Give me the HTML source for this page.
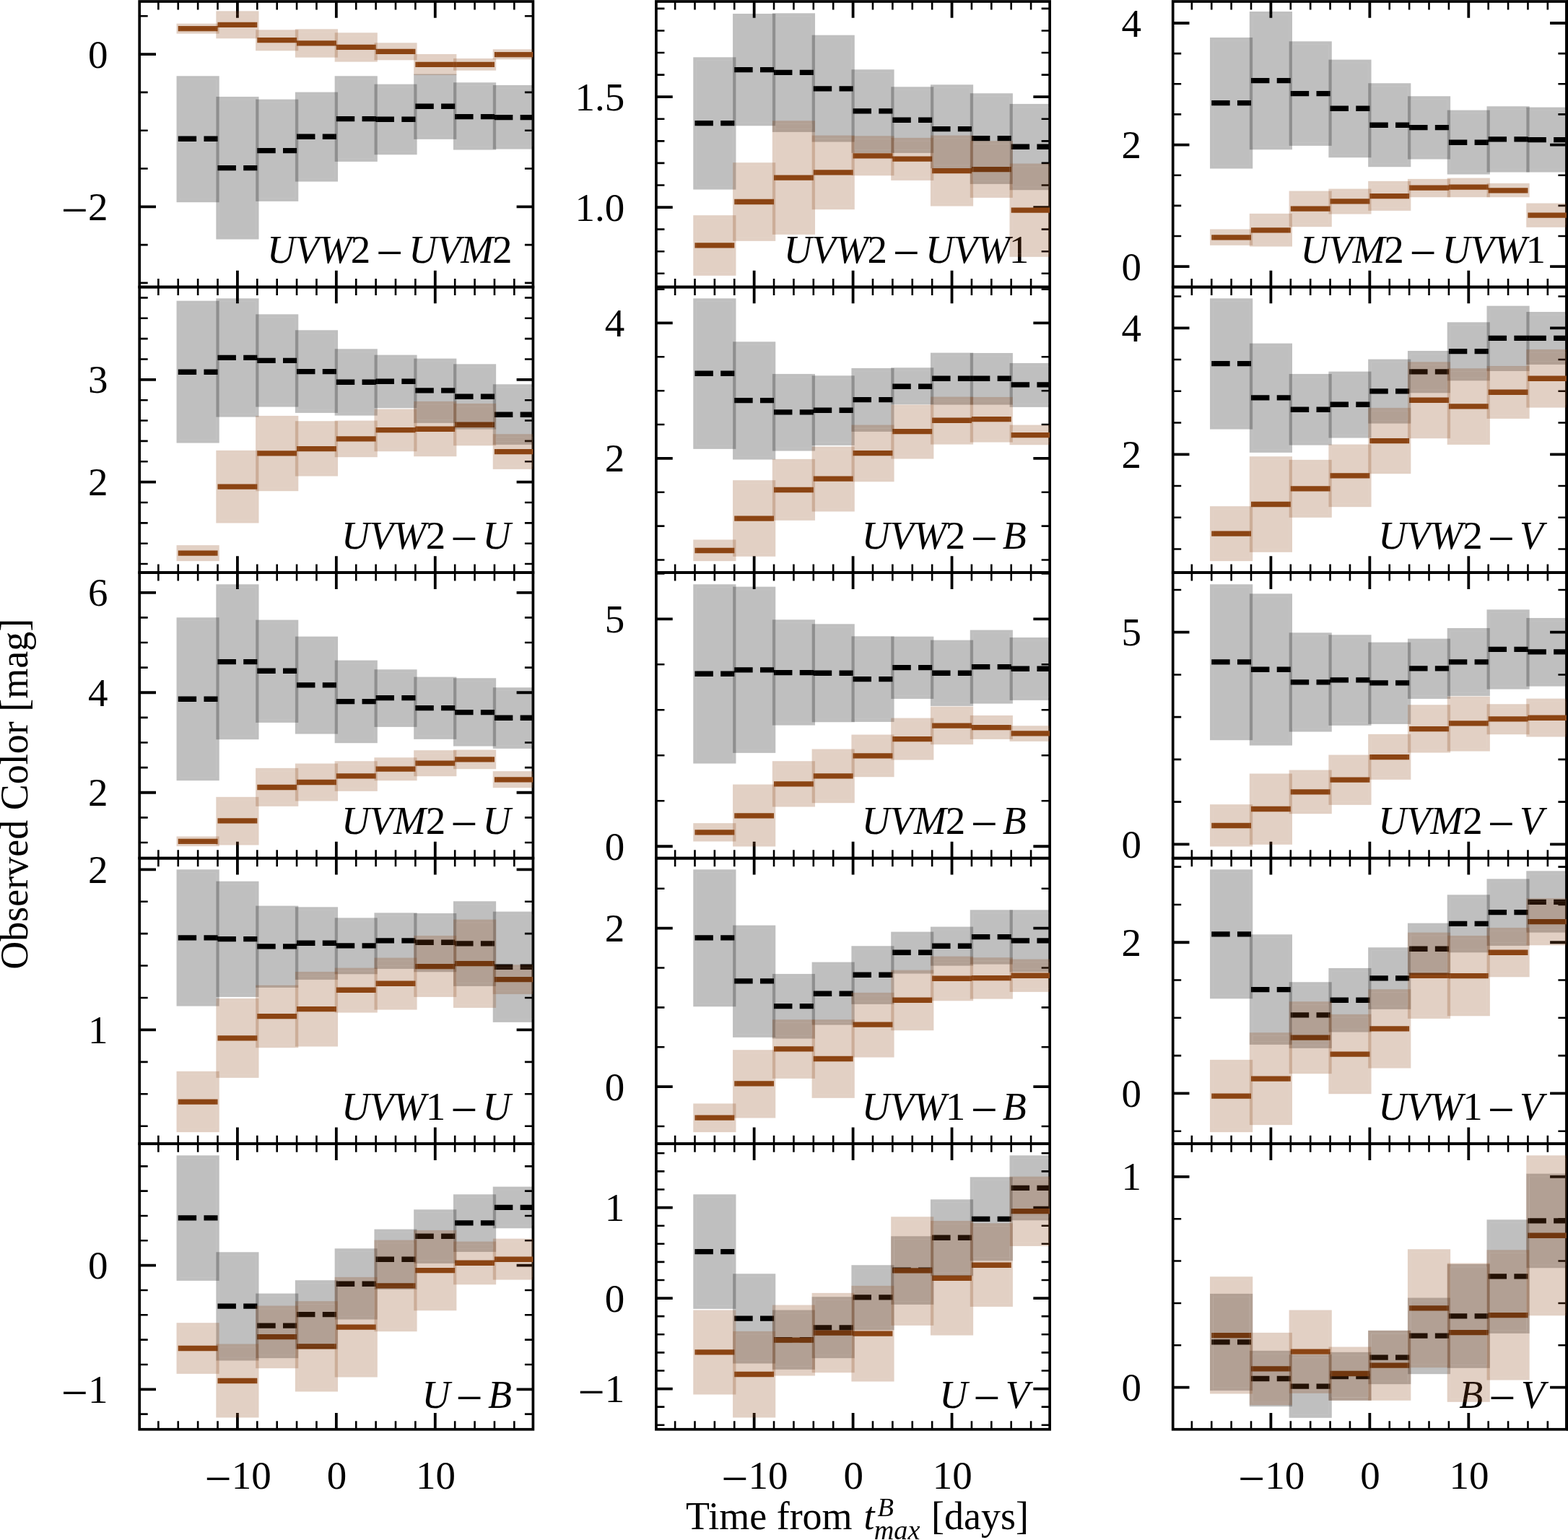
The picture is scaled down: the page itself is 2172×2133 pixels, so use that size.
<!DOCTYPE html>
<html lang="en"><head><meta charset="utf-8"><title>Observed Color vs Time from B maximum</title>
<style>html,body{margin:0;padding:0;background:#fff}body{width:2172px;height:2133px}svg{display:block}text{font-family:"Liberation Serif", serif;font-size:54px;fill:#000}.i{font-style:italic}.d{font-size:55px}.m{font-size:66px}</style>
</head><body>
<svg width="2172" height="2133" viewBox="0 0 2172 2133" role="img" aria-label="Observed color versus time from B-band maximum, 15 panels">
<rect x="0" y="0" width="2172" height="2133" fill="#fff"/>
<defs>
<clipPath id="c00"><rect x="193.2" y="2" width="545.2" height="395.55"/></clipPath>
<clipPath id="c01"><rect x="908.95" y="2" width="545.2" height="395.55"/></clipPath>
<clipPath id="c02"><rect x="1624.7" y="2" width="545.2" height="395.55"/></clipPath>
<clipPath id="c10"><rect x="193.2" y="397.55" width="545.2" height="395.55"/></clipPath>
<clipPath id="c11"><rect x="908.95" y="397.55" width="545.2" height="395.55"/></clipPath>
<clipPath id="c12"><rect x="1624.7" y="397.55" width="545.2" height="395.55"/></clipPath>
<clipPath id="c20"><rect x="193.2" y="793.1" width="545.2" height="395.55"/></clipPath>
<clipPath id="c21"><rect x="908.95" y="793.1" width="545.2" height="395.55"/></clipPath>
<clipPath id="c22"><rect x="1624.7" y="793.1" width="545.2" height="395.55"/></clipPath>
<clipPath id="c30"><rect x="193.2" y="1188.65" width="545.2" height="395.55"/></clipPath>
<clipPath id="c31"><rect x="908.95" y="1188.65" width="545.2" height="395.55"/></clipPath>
<clipPath id="c32"><rect x="1624.7" y="1188.65" width="545.2" height="395.55"/></clipPath>
<clipPath id="c40"><rect x="193.2" y="1584.2" width="545.2" height="395.55"/></clipPath>
<clipPath id="c41"><rect x="908.95" y="1584.2" width="545.2" height="395.55"/></clipPath>
<clipPath id="c42"><rect x="1624.7" y="1584.2" width="545.2" height="395.55"/></clipPath>
</defs>
<g id="panel-0-0">
<path d="M219.36 2v11.5 M219.36 397.55v-11.5 M246.75 2v11.5 M246.75 397.55v-11.5 M274.13 2v11.5 M274.13 397.55v-11.5 M301.52 2v11.5 M301.52 397.55v-11.5 M356.3 2v11.5 M356.3 397.55v-11.5 M383.69 2v11.5 M383.69 397.55v-11.5 M411.07 2v11.5 M411.07 397.55v-11.5 M438.46 2v11.5 M438.46 397.55v-11.5 M493.24 2v11.5 M493.24 397.55v-11.5 M520.63 2v11.5 M520.63 397.55v-11.5 M548.01 2v11.5 M548.01 397.55v-11.5 M575.4 2v11.5 M575.4 397.55v-11.5 M630.18 2v11.5 M630.18 397.55v-11.5 M657.57 2v11.5 M657.57 397.55v-11.5 M684.95 2v11.5 M684.95 397.55v-11.5 M712.34 2v11.5 M712.34 397.55v-11.5 M193.2 391.88h11.5 M738.4 391.88h-11.5 M193.2 339.08h11.5 M738.4 339.08h-11.5 M193.2 233.49h11.5 M738.4 233.49h-11.5 M193.2 180.69h11.5 M738.4 180.69h-11.5 M193.2 127.89h11.5 M738.4 127.89h-11.5 M193.2 22.3h11.5 M738.4 22.3h-11.5" stroke="#000" stroke-width="2.6" fill="none"/>
<path d="M328.91 2v22.8 M328.91 397.55v-22.8 M465.85 2v22.8 M465.85 397.55v-22.8 M602.79 2v22.8 M602.79 397.55v-22.8 M193.2 286.29h22.8 M738.4 286.29h-22.8 M193.2 75.09h22.8 M738.4 75.09h-22.8" stroke="#000" stroke-width="3.8" fill="none"/>
<rect x="193.2" y="2" width="545.2" height="395.55" fill="none" stroke="#000" stroke-width="3.7"/>
<text class="d" x="149.6" y="304.89" text-anchor="end"><tspan class="m" dy="8.1">−</tspan><tspan dy="-8.1">2</tspan></text>
<text class="d" x="149.6" y="93.69" text-anchor="end">0</text>
<g clip-path="url(#c00)">
<path d="M246.75 192.23H301.52 M301.52 232.55H356.3 M356.3 208.56H411.07 M411.07 189.24H465.85 M465.85 164.58H520.63 M520.63 165.25H575.4 M575.4 147.26H630.18 M630.18 161.58H684.95 M684.95 162.58H739.73" stroke="#000" stroke-width="7.3" stroke-dasharray="25.4 10.3" fill="none"/>
<path d="M246.75 39.65H301.52 M301.52 34.32H356.3 M356.3 55.64H411.07 M411.07 59.97H465.85 M465.85 65.3H520.63 M520.63 71.3H575.4 M575.4 89.29H630.18 M630.18 89.29H684.95 M684.95 75.63H739.73" stroke="#8b4513" stroke-width="7.3" fill="none"/>
</g>
<text y="364.25"><tspan class="i" x="370.1">UVW</tspan><tspan class="d" x="485.8">2</tspan><tspan class="m" x="520.91" dy="8.1">−</tspan><tspan class="i" x="566.3" dy="-8.1">UVM</tspan><tspan class="d" x="681.9">2</tspan></text>
<g clip-path="url(#c00)">
<rect x="244.55" y="105.28" width="59.18" height="174.91" fill="#000" fill-opacity="0.25"/>
<rect x="299.32" y="133.93" width="59.18" height="197.56" fill="#000" fill-opacity="0.25"/>
<rect x="354.1" y="137.6" width="59.18" height="141.26" fill="#000" fill-opacity="0.25"/>
<rect x="408.87" y="127.6" width="59.18" height="123.94" fill="#000" fill-opacity="0.25"/>
<rect x="463.65" y="105.28" width="59.18" height="118.61" fill="#000" fill-opacity="0.25"/>
<rect x="518.43" y="116.61" width="59.18" height="97.62" fill="#000" fill-opacity="0.25"/>
<rect x="573.2" y="102.61" width="59.18" height="90.29" fill="#000" fill-opacity="0.25"/>
<rect x="627.98" y="114.27" width="59.18" height="93.29" fill="#000" fill-opacity="0.25"/>
<rect x="682.75" y="117.94" width="59.18" height="88.62" fill="#000" fill-opacity="0.25"/>
<rect x="244.55" y="32.65" width="59.18" height="13.99" fill="#8b4513" fill-opacity="0.25"/>
<rect x="299.32" y="15.33" width="59.18" height="37.98" fill="#8b4513" fill-opacity="0.25"/>
<rect x="354.1" y="41.31" width="59.18" height="28.99" fill="#8b4513" fill-opacity="0.25"/>
<rect x="408.87" y="40.31" width="59.18" height="39.31" fill="#8b4513" fill-opacity="0.25"/>
<rect x="463.65" y="45.31" width="59.18" height="40.31" fill="#8b4513" fill-opacity="0.25"/>
<rect x="518.43" y="59.3" width="59.18" height="23.99" fill="#8b4513" fill-opacity="0.25"/>
<rect x="573.2" y="74.96" width="59.18" height="28.99" fill="#8b4513" fill-opacity="0.25"/>
<rect x="627.98" y="80.96" width="59.18" height="16.66" fill="#8b4513" fill-opacity="0.25"/>
<rect x="682.75" y="68.3" width="59.18" height="13.99" fill="#8b4513" fill-opacity="0.25"/>
<path d="M248.85 109.58h50.58v166.31h-50.58z M303.62 138.23h50.58v188.96h-50.58z M358.4 141.9h50.58v132.66h-50.58z M413.17 131.9h50.58v115.34h-50.58z M467.95 109.58h50.58v110.01h-50.58z M522.73 120.91h50.58v89.02h-50.58z M577.5 106.91h50.58v81.69h-50.58z M632.28 118.57h50.58v84.69h-50.58z M687.05 122.24h50.58v80.02h-50.58z M248.85 36.95h50.58v5.39h-50.58z M303.62 19.63h50.58v29.38h-50.58z M358.4 45.61h50.58v20.39h-50.58z M413.17 44.61h50.58v30.71h-50.58z M467.95 49.61h50.58v31.71h-50.58z M522.73 63.6h50.58v15.39h-50.58z M577.5 79.26h50.58v20.39h-50.58z M632.28 85.26h50.58v8.06h-50.58z M687.05 72.6h50.58v5.39h-50.58z" fill="none" stroke="#fff" stroke-opacity="0.07" stroke-width="1"/>
</g>
</g>
<g id="panel-0-1">
<path d="M935.11 2v11.5 M935.11 397.55v-11.5 M962.5 2v11.5 M962.5 397.55v-11.5 M989.88 2v11.5 M989.88 397.55v-11.5 M1017.27 2v11.5 M1017.27 397.55v-11.5 M1072.05 2v11.5 M1072.05 397.55v-11.5 M1099.44 2v11.5 M1099.44 397.55v-11.5 M1126.82 2v11.5 M1126.82 397.55v-11.5 M1154.21 2v11.5 M1154.21 397.55v-11.5 M1208.99 2v11.5 M1208.99 397.55v-11.5 M1236.38 2v11.5 M1236.38 397.55v-11.5 M1263.76 2v11.5 M1263.76 397.55v-11.5 M1291.15 2v11.5 M1291.15 397.55v-11.5 M1345.93 2v11.5 M1345.93 397.55v-11.5 M1373.32 2v11.5 M1373.32 397.55v-11.5 M1400.7 2v11.5 M1400.7 397.55v-11.5 M1428.09 2v11.5 M1428.09 397.55v-11.5 M908.95 378.76h11.5 M1454.15 378.76h-11.5 M908.95 348.19h11.5 M1454.15 348.19h-11.5 M908.95 317.62h11.5 M1454.15 317.62h-11.5 M908.95 256.48h11.5 M1454.15 256.48h-11.5 M908.95 225.91h11.5 M1454.15 225.91h-11.5 M908.95 195.34h11.5 M1454.15 195.34h-11.5 M908.95 164.77h11.5 M1454.15 164.77h-11.5 M908.95 103.63h11.5 M1454.15 103.63h-11.5 M908.95 73.06h11.5 M1454.15 73.06h-11.5 M908.95 42.48h11.5 M1454.15 42.48h-11.5 M908.95 11.91h11.5 M1454.15 11.91h-11.5" stroke="#000" stroke-width="2.6" fill="none"/>
<path d="M1044.66 2v22.8 M1044.66 397.55v-22.8 M1181.6 2v22.8 M1181.6 397.55v-22.8 M1318.54 2v22.8 M1318.54 397.55v-22.8 M908.95 287.05h22.8 M1454.15 287.05h-22.8 M908.95 134.2h22.8 M1454.15 134.2h-22.8" stroke="#000" stroke-width="3.8" fill="none"/>
<rect x="908.95" y="2" width="545.2" height="395.55" fill="none" stroke="#000" stroke-width="3.7"/>
<text class="d" x="865.35" y="305.65" text-anchor="end">1.0</text>
<text class="d" x="865.35" y="152.8" text-anchor="end">1.5</text>
<g clip-path="url(#c01)">
<path d="M962.5 170.58H1017.27 M1017.27 96.62H1072.05 M1072.05 100.28H1126.82 M1126.82 122.94H1181.6 M1181.6 153.92H1236.38 M1236.38 166.25H1291.15 M1291.15 178.57H1345.93 M1345.93 191.57H1400.7 M1400.7 203.23H1455.48" stroke="#000" stroke-width="7.3" stroke-dasharray="25.4 10.3" fill="none"/>
<path d="M962.5 339.82H1017.27 M1017.27 279.52H1072.05 M1072.05 246.21H1126.82 M1126.82 238.88H1181.6 M1181.6 215.89H1236.38 M1236.38 220.22H1291.15 M1291.15 236.54H1345.93 M1345.93 234.55H1400.7 M1400.7 291.18H1455.48" stroke="#8b4513" stroke-width="7.3" fill="none"/>
</g>
<text y="364.25"><tspan class="i" x="1085.85">UVW</tspan><tspan class="d" x="1201.55">2</tspan><tspan class="m" x="1236.66" dy="8.1">−</tspan><tspan class="i" x="1282.05" dy="-8.1">UVW</tspan><tspan class="d" x="1397.65">1</tspan></text>
<g clip-path="url(#c01)">
<rect x="960.3" y="79.29" width="59.18" height="183.24" fill="#000" fill-opacity="0.25"/>
<rect x="1015.07" y="18.99" width="59.18" height="155.25" fill="#000" fill-opacity="0.25"/>
<rect x="1069.85" y="18.32" width="59.18" height="164.58" fill="#000" fill-opacity="0.25"/>
<rect x="1124.62" y="48.64" width="59.18" height="147.92" fill="#000" fill-opacity="0.25"/>
<rect x="1179.4" y="96.28" width="59.18" height="115.61" fill="#000" fill-opacity="0.25"/>
<rect x="1234.18" y="120.27" width="59.18" height="91.62" fill="#000" fill-opacity="0.25"/>
<rect x="1288.95" y="117.27" width="59.18" height="115.94" fill="#000" fill-opacity="0.25"/>
<rect x="1343.73" y="129.27" width="59.18" height="125.6" fill="#000" fill-opacity="0.25"/>
<rect x="1398.5" y="143.93" width="59.18" height="119.27" fill="#000" fill-opacity="0.25"/>
<rect x="960.3" y="298.18" width="59.18" height="83.62" fill="#8b4513" fill-opacity="0.25"/>
<rect x="1015.07" y="225.22" width="59.18" height="108.61" fill="#8b4513" fill-opacity="0.25"/>
<rect x="1069.85" y="167.25" width="59.18" height="157.59" fill="#8b4513" fill-opacity="0.25"/>
<rect x="1124.62" y="187.57" width="59.18" height="102.61" fill="#8b4513" fill-opacity="0.25"/>
<rect x="1179.4" y="188.24" width="59.18" height="54.97" fill="#8b4513" fill-opacity="0.25"/>
<rect x="1234.18" y="190.9" width="59.18" height="58.97" fill="#8b4513" fill-opacity="0.25"/>
<rect x="1288.95" y="187.57" width="59.18" height="97.95" fill="#8b4513" fill-opacity="0.25"/>
<rect x="1343.73" y="195.23" width="59.18" height="78.63" fill="#8b4513" fill-opacity="0.25"/>
<rect x="1398.5" y="226.55" width="59.18" height="129.27" fill="#8b4513" fill-opacity="0.25"/>
<path d="M964.6 83.59h50.58v174.64h-50.58z M1019.37 23.29h50.58v146.65h-50.58z M1074.15 22.62h50.58v155.98h-50.58z M1128.92 52.94h50.58v139.32h-50.58z M1183.7 100.58h50.58v107.01h-50.58z M1238.48 124.57h50.58v83.02h-50.58z M1293.25 121.57h50.58v107.34h-50.58z M1348.03 133.57h50.58v117h-50.58z M1402.8 148.23h50.58v110.67h-50.58z M964.6 302.48h50.58v75.02h-50.58z M1019.37 229.52h50.58v100.01h-50.58z M1074.15 171.55h50.58v148.99h-50.58z M1128.92 191.87h50.58v94.01h-50.58z M1183.7 192.54h50.58v46.37h-50.58z M1238.48 195.2h50.58v50.37h-50.58z M1293.25 191.87h50.58v89.35h-50.58z M1348.03 199.53h50.58v70.03h-50.58z M1402.8 230.85h50.58v120.67h-50.58z" fill="none" stroke="#fff" stroke-opacity="0.07" stroke-width="1"/>
</g>
</g>
<g id="panel-0-2">
<path d="M1650.86 2v11.5 M1650.86 397.55v-11.5 M1678.25 2v11.5 M1678.25 397.55v-11.5 M1705.63 2v11.5 M1705.63 397.55v-11.5 M1733.02 2v11.5 M1733.02 397.55v-11.5 M1787.8 2v11.5 M1787.8 397.55v-11.5 M1815.19 2v11.5 M1815.19 397.55v-11.5 M1842.57 2v11.5 M1842.57 397.55v-11.5 M1869.96 2v11.5 M1869.96 397.55v-11.5 M1924.74 2v11.5 M1924.74 397.55v-11.5 M1952.13 2v11.5 M1952.13 397.55v-11.5 M1979.51 2v11.5 M1979.51 397.55v-11.5 M2006.9 2v11.5 M2006.9 397.55v-11.5 M2061.68 2v11.5 M2061.68 397.55v-11.5 M2089.07 2v11.5 M2089.07 397.55v-11.5 M2116.45 2v11.5 M2116.45 397.55v-11.5 M2143.84 2v11.5 M2143.84 397.55v-11.5 M1624.7 327h11.5 M2169.9 327h-11.5 M1624.7 284.85h11.5 M2169.9 284.85h-11.5 M1624.7 242.71h11.5 M2169.9 242.71h-11.5 M1624.7 158.42h11.5 M2169.9 158.42h-11.5 M1624.7 116.27h11.5 M2169.9 116.27h-11.5 M1624.7 74.13h11.5 M2169.9 74.13h-11.5" stroke="#000" stroke-width="2.6" fill="none"/>
<path d="M1760.41 2v22.8 M1760.41 397.55v-22.8 M1897.35 2v22.8 M1897.35 397.55v-22.8 M2034.29 2v22.8 M2034.29 397.55v-22.8 M1624.7 369.14h22.8 M2169.9 369.14h-22.8 M1624.7 200.56h22.8 M2169.9 200.56h-22.8 M1624.7 31.98h22.8 M2169.9 31.98h-22.8" stroke="#000" stroke-width="3.8" fill="none"/>
<rect x="1624.7" y="2" width="545.2" height="395.55" fill="none" stroke="#000" stroke-width="3.7"/>
<text class="d" x="1581.1" y="387.74" text-anchor="end">0</text>
<text class="d" x="1581.1" y="219.16" text-anchor="end">2</text>
<text class="d" x="1581.1" y="50.58" text-anchor="end">4</text>
<g clip-path="url(#c02)">
<path d="M1678.25 142.59H1733.02 M1733.02 111.61H1787.8 M1787.8 129.6H1842.57 M1842.57 150.26H1897.35 M1897.35 173.24H1952.13 M1952.13 176.58H2006.9 M2006.9 197.23H2061.68 M2061.68 192.9H2116.45 M2116.45 193.57H2171.23" stroke="#000" stroke-width="7.3" stroke-dasharray="25.4 10.3" fill="none"/>
<path d="M1678.25 328.83H1733.02 M1733.02 318.84H1787.8 M1787.8 289.18H1842.57 M1842.57 278.86H1897.35 M1897.35 271.53H1952.13 M1952.13 260.2H2006.9 M2006.9 259.2H2061.68 M2061.68 263.86H2116.45 M2116.45 298.18H2171.23" stroke="#8b4513" stroke-width="7.3" fill="none"/>
</g>
<text y="364.25"><tspan class="i" x="1801.6">UVM</tspan><tspan class="d" x="1917.3">2</tspan><tspan class="m" x="1952.41" dy="8.1">−</tspan><tspan class="i" x="1997.8" dy="-8.1">UVW</tspan><tspan class="d" x="2113.4">1</tspan></text>
<g clip-path="url(#c02)">
<rect x="1676.05" y="51.97" width="59.18" height="181.57" fill="#000" fill-opacity="0.25"/>
<rect x="1730.82" y="15.99" width="59.18" height="191.23" fill="#000" fill-opacity="0.25"/>
<rect x="1785.6" y="57.3" width="59.18" height="144.59" fill="#000" fill-opacity="0.25"/>
<rect x="1840.37" y="82.62" width="59.18" height="135.6" fill="#000" fill-opacity="0.25"/>
<rect x="1895.15" y="115.27" width="59.18" height="115.94" fill="#000" fill-opacity="0.25"/>
<rect x="1949.93" y="133.26" width="59.18" height="87.29" fill="#000" fill-opacity="0.25"/>
<rect x="2004.7" y="152.59" width="59.18" height="88.95" fill="#000" fill-opacity="0.25"/>
<rect x="2059.48" y="147.26" width="59.18" height="91.29" fill="#000" fill-opacity="0.25"/>
<rect x="2114.25" y="148.59" width="59.18" height="89.95" fill="#000" fill-opacity="0.25"/>
<rect x="1676.05" y="317.5" width="59.18" height="22.32" fill="#8b4513" fill-opacity="0.25"/>
<rect x="1730.82" y="295.85" width="59.18" height="45.64" fill="#8b4513" fill-opacity="0.25"/>
<rect x="1785.6" y="264.53" width="59.18" height="49.64" fill="#8b4513" fill-opacity="0.25"/>
<rect x="1840.37" y="261.53" width="59.18" height="34.98" fill="#8b4513" fill-opacity="0.25"/>
<rect x="1895.15" y="250.87" width="59.18" height="40.98" fill="#8b4513" fill-opacity="0.25"/>
<rect x="1949.93" y="247.87" width="59.18" height="25.32" fill="#8b4513" fill-opacity="0.25"/>
<rect x="2004.7" y="246.54" width="59.18" height="26.65" fill="#8b4513" fill-opacity="0.25"/>
<rect x="2059.48" y="253.87" width="59.18" height="19.32" fill="#8b4513" fill-opacity="0.25"/>
<rect x="2114.25" y="281.52" width="59.18" height="33.32" fill="#8b4513" fill-opacity="0.25"/>
<path d="M1680.35 56.27h50.58v172.97h-50.58z M1735.12 20.29h50.58v182.63h-50.58z M1789.9 61.6h50.58v135.99h-50.58z M1844.67 86.92h50.58v127h-50.58z M1899.45 119.57h50.58v107.34h-50.58z M1954.23 137.56h50.58v78.69h-50.58z M2009 156.89h50.58v80.35h-50.58z M2063.78 151.56h50.58v82.69h-50.58z M2118.55 152.89h50.58v81.35h-50.58z M1680.35 321.8h50.58v13.72h-50.58z M1735.12 300.15h50.58v37.04h-50.58z M1789.9 268.83h50.58v41.04h-50.58z M1844.67 265.83h50.58v26.38h-50.58z M1899.45 255.17h50.58v32.38h-50.58z M1954.23 252.17h50.58v16.72h-50.58z M2009 250.84h50.58v18.05h-50.58z M2063.78 258.17h50.58v10.72h-50.58z M2118.55 285.82h50.58v24.72h-50.58z" fill="none" stroke="#fff" stroke-opacity="0.07" stroke-width="1"/>
</g>
</g>
<g id="panel-1-0">
<path d="M219.36 397.55v11.5 M219.36 793.1v-11.5 M246.75 397.55v11.5 M246.75 793.1v-11.5 M274.13 397.55v11.5 M274.13 793.1v-11.5 M301.52 397.55v11.5 M301.52 793.1v-11.5 M356.3 397.55v11.5 M356.3 793.1v-11.5 M383.69 397.55v11.5 M383.69 793.1v-11.5 M411.07 397.55v11.5 M411.07 793.1v-11.5 M438.46 397.55v11.5 M438.46 793.1v-11.5 M493.24 397.55v11.5 M493.24 793.1v-11.5 M520.63 397.55v11.5 M520.63 793.1v-11.5 M548.01 397.55v11.5 M548.01 793.1v-11.5 M575.4 397.55v11.5 M575.4 793.1v-11.5 M630.18 397.55v11.5 M630.18 793.1v-11.5 M657.57 397.55v11.5 M657.57 793.1v-11.5 M684.95 397.55v11.5 M684.95 793.1v-11.5 M712.34 397.55v11.5 M712.34 793.1v-11.5 M193.2 781.06h11.5 M738.4 781.06h-11.5 M193.2 752.7h11.5 M738.4 752.7h-11.5 M193.2 724.34h11.5 M738.4 724.34h-11.5 M193.2 695.99h11.5 M738.4 695.99h-11.5 M193.2 639.27h11.5 M738.4 639.27h-11.5 M193.2 610.91h11.5 M738.4 610.91h-11.5 M193.2 582.55h11.5 M738.4 582.55h-11.5 M193.2 554.19h11.5 M738.4 554.19h-11.5 M193.2 497.47h11.5 M738.4 497.47h-11.5 M193.2 469.12h11.5 M738.4 469.12h-11.5 M193.2 440.76h11.5 M738.4 440.76h-11.5 M193.2 412.4h11.5 M738.4 412.4h-11.5" stroke="#000" stroke-width="2.6" fill="none"/>
<path d="M328.91 397.55v22.8 M328.91 793.1v-22.8 M465.85 397.55v22.8 M465.85 793.1v-22.8 M602.79 397.55v22.8 M602.79 793.1v-22.8 M193.2 667.63h22.8 M738.4 667.63h-22.8 M193.2 525.83h22.8 M738.4 525.83h-22.8" stroke="#000" stroke-width="3.8" fill="none"/>
<rect x="193.2" y="397.55" width="545.2" height="395.55" fill="none" stroke="#000" stroke-width="3.7"/>
<text class="d" x="149.6" y="686.23" text-anchor="end">2</text>
<text class="d" x="149.6" y="544.43" text-anchor="end">3</text>
<g clip-path="url(#c10)">
<path d="M246.75 515.27H301.52 M301.52 495.28H356.3 M356.3 499.28H411.07 M411.07 514.61H465.85 M465.85 529.26H520.63 M520.63 528.27H575.4 M575.4 540.93H630.18 M630.18 549.25H684.95 M684.95 574.24H739.73" stroke="#000" stroke-width="7.3" stroke-dasharray="25.4 10.3" fill="none"/>
<path d="M246.75 766.14H301.52 M301.52 674.19H356.3 M356.3 627.88H411.07 M411.07 621.55H465.85 M465.85 607.89H520.63 M520.63 595.56H575.4 M575.4 594.23H630.18 M630.18 588.23H684.95 M684.95 625.55H739.73" stroke="#8b4513" stroke-width="7.3" fill="none"/>
</g>
<text y="759.8"><tspan class="i" x="473">UVW</tspan><tspan class="d" x="589.65">2</tspan><tspan class="m" x="624.36" dy="8.1">−</tspan><tspan class="i" x="668.5" dy="-8.1">U</tspan></text>
<g clip-path="url(#c10)">
<rect x="244.55" y="416.66" width="59.18" height="196.9" fill="#000" fill-opacity="0.25"/>
<rect x="299.32" y="413.32" width="59.18" height="164.25" fill="#000" fill-opacity="0.25"/>
<rect x="354.1" y="435.31" width="59.18" height="128.27" fill="#000" fill-opacity="0.25"/>
<rect x="408.87" y="457.3" width="59.18" height="114.61" fill="#000" fill-opacity="0.25"/>
<rect x="463.65" y="483.29" width="59.18" height="92.29" fill="#000" fill-opacity="0.25"/>
<rect x="518.43" y="491.62" width="59.18" height="73.63" fill="#000" fill-opacity="0.25"/>
<rect x="573.2" y="496.61" width="59.18" height="89.29" fill="#000" fill-opacity="0.25"/>
<rect x="627.98" y="504.28" width="59.18" height="90.29" fill="#000" fill-opacity="0.25"/>
<rect x="682.75" y="532.26" width="59.18" height="83.62" fill="#000" fill-opacity="0.25"/>
<rect x="244.55" y="755.15" width="59.18" height="21.99" fill="#8b4513" fill-opacity="0.25"/>
<rect x="299.32" y="623.88" width="59.18" height="100.61" fill="#8b4513" fill-opacity="0.25"/>
<rect x="354.1" y="575.91" width="59.18" height="104.28" fill="#8b4513" fill-opacity="0.25"/>
<rect x="408.87" y="583.24" width="59.18" height="76.29" fill="#8b4513" fill-opacity="0.25"/>
<rect x="463.65" y="582.57" width="59.18" height="50.64" fill="#8b4513" fill-opacity="0.25"/>
<rect x="518.43" y="566.58" width="59.18" height="58.64" fill="#8b4513" fill-opacity="0.25"/>
<rect x="573.2" y="555.92" width="59.18" height="76.29" fill="#8b4513" fill-opacity="0.25"/>
<rect x="627.98" y="558.92" width="59.18" height="58.3" fill="#8b4513" fill-opacity="0.25"/>
<rect x="682.75" y="601.23" width="59.18" height="48.64" fill="#8b4513" fill-opacity="0.25"/>
<path d="M248.85 420.96h50.58v188.3h-50.58z M303.62 417.62h50.58v155.65h-50.58z M358.4 439.61h50.58v119.67h-50.58z M413.17 461.6h50.58v106.01h-50.58z M467.95 487.59h50.58v83.69h-50.58z M522.73 495.92h50.58v65.03h-50.58z M577.5 500.91h50.58v80.69h-50.58z M632.28 508.58h50.58v81.69h-50.58z M687.05 536.56h50.58v75.02h-50.58z M248.85 759.45h50.58v13.39h-50.58z M303.62 628.18h50.58v92.01h-50.58z M358.4 580.21h50.58v95.68h-50.58z M413.17 587.54h50.58v67.69h-50.58z M467.95 586.87h50.58v42.04h-50.58z M522.73 570.88h50.58v50.04h-50.58z M577.5 560.22h50.58v67.69h-50.58z M632.28 563.22h50.58v49.7h-50.58z M687.05 605.53h50.58v40.04h-50.58z" fill="none" stroke="#fff" stroke-opacity="0.07" stroke-width="1"/>
</g>
</g>
<g id="panel-1-1">
<path d="M935.11 397.55v11.5 M935.11 793.1v-11.5 M962.5 397.55v11.5 M962.5 793.1v-11.5 M989.88 397.55v11.5 M989.88 793.1v-11.5 M1017.27 397.55v11.5 M1017.27 793.1v-11.5 M1072.05 397.55v11.5 M1072.05 793.1v-11.5 M1099.44 397.55v11.5 M1099.44 793.1v-11.5 M1126.82 397.55v11.5 M1126.82 793.1v-11.5 M1154.21 397.55v11.5 M1154.21 793.1v-11.5 M1208.99 397.55v11.5 M1208.99 793.1v-11.5 M1236.38 397.55v11.5 M1236.38 793.1v-11.5 M1263.76 397.55v11.5 M1263.76 793.1v-11.5 M1291.15 397.55v11.5 M1291.15 793.1v-11.5 M1345.93 397.55v11.5 M1345.93 793.1v-11.5 M1373.32 397.55v11.5 M1373.32 793.1v-11.5 M1400.7 397.55v11.5 M1400.7 793.1v-11.5 M1428.09 397.55v11.5 M1428.09 793.1v-11.5 M908.95 775.43h11.5 M1454.15 775.43h-11.5 M908.95 728.58h11.5 M1454.15 728.58h-11.5 M908.95 681.73h11.5 M1454.15 681.73h-11.5 M908.95 588.03h11.5 M1454.15 588.03h-11.5 M908.95 541.18h11.5 M1454.15 541.18h-11.5 M908.95 494.32h11.5 M1454.15 494.32h-11.5 M908.95 400.62h11.5 M1454.15 400.62h-11.5" stroke="#000" stroke-width="2.6" fill="none"/>
<path d="M1044.66 397.55v22.8 M1044.66 793.1v-22.8 M1181.6 397.55v22.8 M1181.6 793.1v-22.8 M1318.54 397.55v22.8 M1318.54 793.1v-22.8 M908.95 634.88h22.8 M1454.15 634.88h-22.8 M908.95 447.47h22.8 M1454.15 447.47h-22.8" stroke="#000" stroke-width="3.8" fill="none"/>
<rect x="908.95" y="397.55" width="545.2" height="395.55" fill="none" stroke="#000" stroke-width="3.7"/>
<text class="d" x="865.35" y="653.48" text-anchor="end">2</text>
<text class="d" x="865.35" y="466.07" text-anchor="end">4</text>
<g clip-path="url(#c11)">
<path d="M962.5 517.27H1017.27 M1017.27 554.58H1072.05 M1072.05 570.91H1126.82 M1126.82 568.24H1181.6 M1181.6 553.59H1236.38 M1236.38 535.26H1291.15 M1291.15 524.27H1345.93 M1345.93 524.27H1400.7 M1400.7 532.93H1455.48" stroke="#000" stroke-width="7.3" stroke-dasharray="25.4 10.3" fill="none"/>
<path d="M962.5 762.48H1017.27 M1017.27 718.17H1072.05 M1072.05 678.52H1126.82 M1126.82 663.2H1181.6 M1181.6 627.55H1236.38 M1236.38 597.56H1291.15 M1291.15 582.24H1345.93 M1345.93 580.57H1400.7 M1400.7 602.56H1455.48" stroke="#8b4513" stroke-width="7.3" fill="none"/>
</g>
<text y="759.8"><tspan class="i" x="1193.85">UVW</tspan><tspan class="d" x="1309.75">2</tspan><tspan class="m" x="1344.66" dy="8.1">−</tspan><tspan class="i" x="1388.85" dy="-8.1">B</tspan></text>
<g clip-path="url(#c11)">
<rect x="960.3" y="413.32" width="59.18" height="208.56" fill="#000" fill-opacity="0.25"/>
<rect x="1015.07" y="473.29" width="59.18" height="163.25" fill="#000" fill-opacity="0.25"/>
<rect x="1069.85" y="517.94" width="59.18" height="106.61" fill="#000" fill-opacity="0.25"/>
<rect x="1124.62" y="520.27" width="59.18" height="96.62" fill="#000" fill-opacity="0.25"/>
<rect x="1179.4" y="509.94" width="59.18" height="87.95" fill="#000" fill-opacity="0.25"/>
<rect x="1234.18" y="509.27" width="59.18" height="50.97" fill="#000" fill-opacity="0.25"/>
<rect x="1288.95" y="488.62" width="59.18" height="71.96" fill="#000" fill-opacity="0.25"/>
<rect x="1343.73" y="488.95" width="59.18" height="71.63" fill="#000" fill-opacity="0.25"/>
<rect x="1398.5" y="502.94" width="59.18" height="60.97" fill="#000" fill-opacity="0.25"/>
<rect x="960.3" y="747.49" width="59.18" height="29.65" fill="#8b4513" fill-opacity="0.25"/>
<rect x="1015.07" y="665.19" width="59.18" height="105.61" fill="#8b4513" fill-opacity="0.25"/>
<rect x="1069.85" y="635.88" width="59.18" height="84.96" fill="#8b4513" fill-opacity="0.25"/>
<rect x="1124.62" y="618.55" width="59.18" height="89.95" fill="#8b4513" fill-opacity="0.25"/>
<rect x="1179.4" y="588.57" width="59.18" height="78.63" fill="#8b4513" fill-opacity="0.25"/>
<rect x="1234.18" y="560.58" width="59.18" height="74.96" fill="#8b4513" fill-opacity="0.25"/>
<rect x="1288.95" y="549.59" width="59.18" height="65.97" fill="#8b4513" fill-opacity="0.25"/>
<rect x="1343.73" y="549.92" width="59.18" height="62.63" fill="#8b4513" fill-opacity="0.25"/>
<rect x="1398.5" y="588.57" width="59.18" height="27.65" fill="#8b4513" fill-opacity="0.25"/>
<path d="M964.6 417.62h50.58v199.96h-50.58z M1019.37 477.59h50.58v154.65h-50.58z M1074.15 522.24h50.58v98.01h-50.58z M1128.92 524.57h50.58v88.02h-50.58z M1183.7 514.24h50.58v79.35h-50.58z M1238.48 513.57h50.58v42.37h-50.58z M1293.25 492.92h50.58v63.36h-50.58z M1348.03 493.25h50.58v63.03h-50.58z M1402.8 507.24h50.58v52.37h-50.58z M964.6 751.79h50.58v21.05h-50.58z M1019.37 669.49h50.58v97.01h-50.58z M1074.15 640.18h50.58v76.36h-50.58z M1128.92 622.85h50.58v81.35h-50.58z M1183.7 592.87h50.58v70.03h-50.58z M1238.48 564.88h50.58v66.36h-50.58z M1293.25 553.89h50.58v57.37h-50.58z M1348.03 554.22h50.58v54.03h-50.58z M1402.8 592.87h50.58v19.05h-50.58z" fill="none" stroke="#fff" stroke-opacity="0.07" stroke-width="1"/>
</g>
</g>
<g id="panel-1-2">
<path d="M1650.86 397.55v11.5 M1650.86 793.1v-11.5 M1678.25 397.55v11.5 M1678.25 793.1v-11.5 M1705.63 397.55v11.5 M1705.63 793.1v-11.5 M1733.02 397.55v11.5 M1733.02 793.1v-11.5 M1787.8 397.55v11.5 M1787.8 793.1v-11.5 M1815.19 397.55v11.5 M1815.19 793.1v-11.5 M1842.57 397.55v11.5 M1842.57 793.1v-11.5 M1869.96 397.55v11.5 M1869.96 793.1v-11.5 M1924.74 397.55v11.5 M1924.74 793.1v-11.5 M1952.13 397.55v11.5 M1952.13 793.1v-11.5 M1979.51 397.55v11.5 M1979.51 793.1v-11.5 M2006.9 397.55v11.5 M2006.9 793.1v-11.5 M2061.68 397.55v11.5 M2061.68 793.1v-11.5 M2089.07 397.55v11.5 M2089.07 793.1v-11.5 M2116.45 397.55v11.5 M2116.45 793.1v-11.5 M2143.84 397.55v11.5 M2143.84 793.1v-11.5 M1624.7 760.57h11.5 M2169.9 760.57h-11.5 M1624.7 716.82h11.5 M2169.9 716.82h-11.5 M1624.7 673.07h11.5 M2169.9 673.07h-11.5 M1624.7 585.56h11.5 M2169.9 585.56h-11.5 M1624.7 541.81h11.5 M2169.9 541.81h-11.5 M1624.7 498.06h11.5 M2169.9 498.06h-11.5 M1624.7 410.55h11.5 M2169.9 410.55h-11.5" stroke="#000" stroke-width="2.6" fill="none"/>
<path d="M1760.41 397.55v22.8 M1760.41 793.1v-22.8 M1897.35 397.55v22.8 M1897.35 793.1v-22.8 M2034.29 397.55v22.8 M2034.29 793.1v-22.8 M1624.7 629.31h22.8 M2169.9 629.31h-22.8 M1624.7 454.3h22.8 M2169.9 454.3h-22.8" stroke="#000" stroke-width="3.8" fill="none"/>
<rect x="1624.7" y="397.55" width="545.2" height="395.55" fill="none" stroke="#000" stroke-width="3.7"/>
<text class="d" x="1581.1" y="647.91" text-anchor="end">2</text>
<text class="d" x="1581.1" y="472.9" text-anchor="end">4</text>
<g clip-path="url(#c12)">
<path d="M1678.25 503.61H1733.02 M1733.02 550.92H1787.8 M1787.8 567.24H1842.57 M1842.57 560.25H1897.35 M1897.35 541.92H1952.13 M1952.13 514.94H2006.9 M2006.9 486.62H2061.68 M2061.68 468.3H2116.45 M2116.45 468.3H2171.23" stroke="#000" stroke-width="7.3" stroke-dasharray="25.4 10.3" fill="none"/>
<path d="M1678.25 739.16H1733.02 M1733.02 698.51H1787.8 M1787.8 676.86H1842.57 M1842.57 658.86H1897.35 M1897.35 610.56H1952.13 M1952.13 554.25H2006.9 M2006.9 562.91H2061.68 M2061.68 543.26H2116.45 M2116.45 524.27H2171.23" stroke="#8b4513" stroke-width="7.3" fill="none"/>
</g>
<text y="759.8"><tspan class="i" x="1909.2">UVW</tspan><tspan class="d" x="2026.2">2</tspan><tspan class="m" x="2060.71" dy="8.1">−</tspan><tspan class="i" x="2105.1" dy="-8.1">V</tspan></text>
<g clip-path="url(#c12)">
<rect x="1676.05" y="413.32" width="59.18" height="181.24" fill="#000" fill-opacity="0.25"/>
<rect x="1730.82" y="475.63" width="59.18" height="151.26" fill="#000" fill-opacity="0.25"/>
<rect x="1785.6" y="517.94" width="59.18" height="98.62" fill="#000" fill-opacity="0.25"/>
<rect x="1840.37" y="514.61" width="59.18" height="91.95" fill="#000" fill-opacity="0.25"/>
<rect x="1895.15" y="497.61" width="59.18" height="88.95" fill="#000" fill-opacity="0.25"/>
<rect x="1949.93" y="485.95" width="59.18" height="58.3" fill="#000" fill-opacity="0.25"/>
<rect x="2004.7" y="446.31" width="59.18" height="80.96" fill="#000" fill-opacity="0.25"/>
<rect x="2059.48" y="423.65" width="59.18" height="90.29" fill="#000" fill-opacity="0.25"/>
<rect x="2114.25" y="431.98" width="59.18" height="72.96" fill="#000" fill-opacity="0.25"/>
<rect x="1676.05" y="701.18" width="59.18" height="75.96" fill="#8b4513" fill-opacity="0.25"/>
<rect x="1730.82" y="632.21" width="59.18" height="132.6" fill="#8b4513" fill-opacity="0.25"/>
<rect x="1785.6" y="636.88" width="59.18" height="79.96" fill="#8b4513" fill-opacity="0.25"/>
<rect x="1840.37" y="615.55" width="59.18" height="86.62" fill="#8b4513" fill-opacity="0.25"/>
<rect x="1895.15" y="564.91" width="59.18" height="91.29" fill="#8b4513" fill-opacity="0.25"/>
<rect x="1949.93" y="501.28" width="59.18" height="105.95" fill="#8b4513" fill-opacity="0.25"/>
<rect x="2004.7" y="510.27" width="59.18" height="105.61" fill="#8b4513" fill-opacity="0.25"/>
<rect x="2059.48" y="506.94" width="59.18" height="72.96" fill="#8b4513" fill-opacity="0.25"/>
<rect x="2114.25" y="483.95" width="59.18" height="80.63" fill="#8b4513" fill-opacity="0.25"/>
<path d="M1680.35 417.62h50.58v172.64h-50.58z M1735.12 479.93h50.58v142.66h-50.58z M1789.9 522.24h50.58v90.02h-50.58z M1844.67 518.91h50.58v83.35h-50.58z M1899.45 501.91h50.58v80.35h-50.58z M1954.23 490.25h50.58v49.7h-50.58z M2009 450.61h50.58v72.36h-50.58z M2063.78 427.95h50.58v81.69h-50.58z M2118.55 436.28h50.58v64.36h-50.58z M1680.35 705.48h50.58v67.36h-50.58z M1735.12 636.51h50.58v124h-50.58z M1789.9 641.18h50.58v71.36h-50.58z M1844.67 619.85h50.58v78.02h-50.58z M1899.45 569.21h50.58v82.69h-50.58z M1954.23 505.58h50.58v97.35h-50.58z M2009 514.57h50.58v97.01h-50.58z M2063.78 511.24h50.58v64.36h-50.58z M2118.55 488.25h50.58v72.03h-50.58z" fill="none" stroke="#fff" stroke-opacity="0.07" stroke-width="1"/>
</g>
</g>
<g id="panel-2-0">
<path d="M219.36 793.1v11.5 M219.36 1188.65v-11.5 M246.75 793.1v11.5 M246.75 1188.65v-11.5 M274.13 793.1v11.5 M274.13 1188.65v-11.5 M301.52 793.1v11.5 M301.52 1188.65v-11.5 M356.3 793.1v11.5 M356.3 1188.65v-11.5 M383.69 793.1v11.5 M383.69 1188.65v-11.5 M411.07 793.1v11.5 M411.07 1188.65v-11.5 M438.46 793.1v11.5 M438.46 1188.65v-11.5 M493.24 793.1v11.5 M493.24 1188.65v-11.5 M520.63 793.1v11.5 M520.63 1188.65v-11.5 M548.01 793.1v11.5 M548.01 1188.65v-11.5 M575.4 793.1v11.5 M575.4 1188.65v-11.5 M630.18 793.1v11.5 M630.18 1188.65v-11.5 M657.57 793.1v11.5 M657.57 1188.65v-11.5 M684.95 793.1v11.5 M684.95 1188.65v-11.5 M712.34 793.1v11.5 M712.34 1188.65v-11.5 M193.2 1166.98h11.5 M738.4 1166.98h-11.5 M193.2 1132.36h11.5 M738.4 1132.36h-11.5 M193.2 1063.12h11.5 M738.4 1063.12h-11.5 M193.2 1028.5h11.5 M738.4 1028.5h-11.5 M193.2 993.88h11.5 M738.4 993.88h-11.5 M193.2 924.64h11.5 M738.4 924.64h-11.5 M193.2 890.02h11.5 M738.4 890.02h-11.5 M193.2 855.4h11.5 M738.4 855.4h-11.5" stroke="#000" stroke-width="2.6" fill="none"/>
<path d="M328.91 793.1v22.8 M328.91 1188.65v-22.8 M465.85 793.1v22.8 M465.85 1188.65v-22.8 M602.79 793.1v22.8 M602.79 1188.65v-22.8 M193.2 1097.74h22.8 M738.4 1097.74h-22.8 M193.2 959.26h22.8 M738.4 959.26h-22.8 M193.2 820.79h22.8 M738.4 820.79h-22.8" stroke="#000" stroke-width="3.8" fill="none"/>
<rect x="193.2" y="793.1" width="545.2" height="395.55" fill="none" stroke="#000" stroke-width="3.7"/>
<text class="d" x="149.6" y="1116.34" text-anchor="end">2</text>
<text class="d" x="149.6" y="977.86" text-anchor="end">4</text>
<text class="d" x="149.6" y="839.39" text-anchor="end">6</text>
<g clip-path="url(#c20)">
<path d="M246.75 968.24H301.52 M301.52 916.6H356.3 M356.3 929.26H411.07 M411.07 948.92H465.85 M465.85 971.57H520.63 M520.63 966.58H575.4 M575.4 980.57H630.18 M630.18 986.57H684.95 M684.95 994.23H739.73" stroke="#000" stroke-width="7.3" stroke-dasharray="25.4 10.3" fill="none"/>
<path d="M246.75 1165.47H301.52 M301.52 1136.82H356.3 M356.3 1090.51H411.07 M411.07 1083.52H465.85 M465.85 1074.85H520.63 M520.63 1065.19H575.4 M575.4 1057.2H630.18 M630.18 1051.87H684.95 M684.95 1079.85H739.73" stroke="#8b4513" stroke-width="7.3" fill="none"/>
</g>
<text y="1155.35"><tspan class="i" x="473">UVM</tspan><tspan class="d" x="589.65">2</tspan><tspan class="m" x="624.36" dy="8.1">−</tspan><tspan class="i" x="668.5" dy="-8.1">U</tspan></text>
<g clip-path="url(#c20)">
<rect x="244.55" y="855.3" width="59.18" height="225.88" fill="#000" fill-opacity="0.25"/>
<rect x="299.32" y="809.32" width="59.18" height="214.89" fill="#000" fill-opacity="0.25"/>
<rect x="354.1" y="858.63" width="59.18" height="142.26" fill="#000" fill-opacity="0.25"/>
<rect x="408.87" y="881.62" width="59.18" height="134.93" fill="#000" fill-opacity="0.25"/>
<rect x="463.65" y="914.6" width="59.18" height="114.61" fill="#000" fill-opacity="0.25"/>
<rect x="518.43" y="927.26" width="59.18" height="79.63" fill="#000" fill-opacity="0.25"/>
<rect x="573.2" y="937.59" width="59.18" height="86.29" fill="#000" fill-opacity="0.25"/>
<rect x="627.98" y="939.26" width="59.18" height="94.28" fill="#000" fill-opacity="0.25"/>
<rect x="682.75" y="952.25" width="59.18" height="84.62" fill="#000" fill-opacity="0.25"/>
<rect x="244.55" y="1158.48" width="59.18" height="13.66" fill="#8b4513" fill-opacity="0.25"/>
<rect x="299.32" y="1103.84" width="59.18" height="66.63" fill="#8b4513" fill-opacity="0.25"/>
<rect x="354.1" y="1063.86" width="59.18" height="52.97" fill="#8b4513" fill-opacity="0.25"/>
<rect x="408.87" y="1057.53" width="59.18" height="51.97" fill="#8b4513" fill-opacity="0.25"/>
<rect x="463.65" y="1054.2" width="59.18" height="41.65" fill="#8b4513" fill-opacity="0.25"/>
<rect x="518.43" y="1049.2" width="59.18" height="31.98" fill="#8b4513" fill-opacity="0.25"/>
<rect x="573.2" y="1039.21" width="59.18" height="35.98" fill="#8b4513" fill-opacity="0.25"/>
<rect x="627.98" y="1038.54" width="59.18" height="26.65" fill="#8b4513" fill-opacity="0.25"/>
<rect x="682.75" y="1068.19" width="59.18" height="22.99" fill="#8b4513" fill-opacity="0.25"/>
<path d="M248.85 859.6h50.58v217.28h-50.58z M303.62 813.62h50.58v206.29h-50.58z M358.4 862.93h50.58v133.66h-50.58z M413.17 885.92h50.58v126.33h-50.58z M467.95 918.9h50.58v106.01h-50.58z M522.73 931.56h50.58v71.03h-50.58z M577.5 941.89h50.58v77.69h-50.58z M632.28 943.56h50.58v85.68h-50.58z M687.05 956.55h50.58v76.02h-50.58z M248.85 1162.78h50.58v5.06h-50.58z M303.62 1108.14h50.58v58.03h-50.58z M358.4 1068.16h50.58v44.37h-50.58z M413.17 1061.83h50.58v43.37h-50.58z M467.95 1058.5h50.58v33.05h-50.58z M522.73 1053.5h50.58v23.38h-50.58z M577.5 1043.51h50.58v27.38h-50.58z M632.28 1042.84h50.58v18.05h-50.58z M687.05 1072.49h50.58v14.39h-50.58z" fill="none" stroke="#fff" stroke-opacity="0.07" stroke-width="1"/>
</g>
</g>
<g id="panel-2-1">
<path d="M935.11 793.1v11.5 M935.11 1188.65v-11.5 M962.5 793.1v11.5 M962.5 1188.65v-11.5 M989.88 793.1v11.5 M989.88 1188.65v-11.5 M1017.27 793.1v11.5 M1017.27 1188.65v-11.5 M1072.05 793.1v11.5 M1072.05 1188.65v-11.5 M1099.44 793.1v11.5 M1099.44 1188.65v-11.5 M1126.82 793.1v11.5 M1126.82 1188.65v-11.5 M1154.21 793.1v11.5 M1154.21 1188.65v-11.5 M1208.99 793.1v11.5 M1208.99 1188.65v-11.5 M1236.38 793.1v11.5 M1236.38 1188.65v-11.5 M1263.76 793.1v11.5 M1263.76 1188.65v-11.5 M1291.15 793.1v11.5 M1291.15 1188.65v-11.5 M1345.93 793.1v11.5 M1345.93 1188.65v-11.5 M1373.32 793.1v11.5 M1373.32 1188.65v-11.5 M1400.7 793.1v11.5 M1400.7 1188.65v-11.5 M1428.09 793.1v11.5 M1428.09 1188.65v-11.5 M908.95 1109.28h11.5 M1454.15 1109.28h-11.5 M908.95 1046.3h11.5 M1454.15 1046.3h-11.5 M908.95 983.31h11.5 M1454.15 983.31h-11.5 M908.95 920.32h11.5 M1454.15 920.32h-11.5 M908.95 794.35h11.5 M1454.15 794.35h-11.5" stroke="#000" stroke-width="2.6" fill="none"/>
<path d="M1044.66 793.1v22.8 M1044.66 1188.65v-22.8 M1181.6 793.1v22.8 M1181.6 1188.65v-22.8 M1318.54 793.1v22.8 M1318.54 1188.65v-22.8 M908.95 1172.27h22.8 M1454.15 1172.27h-22.8 M908.95 857.33h22.8 M1454.15 857.33h-22.8" stroke="#000" stroke-width="3.8" fill="none"/>
<rect x="908.95" y="793.1" width="545.2" height="395.55" fill="none" stroke="#000" stroke-width="3.7"/>
<text class="d" x="865.35" y="1190.87" text-anchor="end">0</text>
<text class="d" x="865.35" y="875.93" text-anchor="end">5</text>
<g clip-path="url(#c21)">
<path d="M962.5 933.26H1017.27 M1017.27 927.93H1072.05 M1072.05 931.59H1126.82 M1126.82 932.26H1181.6 M1181.6 940.59H1236.38 M1236.38 924.6H1291.15 M1291.15 932.26H1345.93 M1345.93 923.6H1400.7 M1400.7 926.26H1455.48" stroke="#000" stroke-width="7.3" stroke-dasharray="25.4 10.3" fill="none"/>
<path d="M962.5 1152.81H1017.27 M1017.27 1129.83H1072.05 M1072.05 1085.85H1126.82 M1126.82 1074.85H1181.6 M1181.6 1046.87H1236.38 M1236.38 1023.55H1291.15 M1291.15 1005.22H1345.93 M1345.93 1007.56H1400.7 M1400.7 1015.88H1455.48" stroke="#8b4513" stroke-width="7.3" fill="none"/>
</g>
<text y="1155.35"><tspan class="i" x="1193.85">UVM</tspan><tspan class="d" x="1309.75">2</tspan><tspan class="m" x="1344.66" dy="8.1">−</tspan><tspan class="i" x="1388.85" dy="-8.1">B</tspan></text>
<g clip-path="url(#c21)">
<rect x="960.3" y="809.32" width="59.18" height="248.21" fill="#000" fill-opacity="0.25"/>
<rect x="1015.07" y="812.66" width="59.18" height="230.21" fill="#000" fill-opacity="0.25"/>
<rect x="1069.85" y="858.3" width="59.18" height="146.26" fill="#000" fill-opacity="0.25"/>
<rect x="1124.62" y="864.3" width="59.18" height="135.93" fill="#000" fill-opacity="0.25"/>
<rect x="1179.4" y="881.29" width="59.18" height="118.61" fill="#000" fill-opacity="0.25"/>
<rect x="1234.18" y="881.62" width="59.18" height="86.29" fill="#000" fill-opacity="0.25"/>
<rect x="1288.95" y="886.62" width="59.18" height="91.29" fill="#000" fill-opacity="0.25"/>
<rect x="1343.73" y="872.63" width="59.18" height="101.95" fill="#000" fill-opacity="0.25"/>
<rect x="1398.5" y="882.95" width="59.18" height="86.96" fill="#000" fill-opacity="0.25"/>
<rect x="960.3" y="1140.15" width="59.18" height="25.32" fill="#8b4513" fill-opacity="0.25"/>
<rect x="1015.07" y="1086.51" width="59.18" height="85.96" fill="#8b4513" fill-opacity="0.25"/>
<rect x="1069.85" y="1054.2" width="59.18" height="63.3" fill="#8b4513" fill-opacity="0.25"/>
<rect x="1124.62" y="1037.54" width="59.18" height="74.63" fill="#8b4513" fill-opacity="0.25"/>
<rect x="1179.4" y="1017.55" width="59.18" height="58.64" fill="#8b4513" fill-opacity="0.25"/>
<rect x="1234.18" y="994.56" width="59.18" height="57.97" fill="#8b4513" fill-opacity="0.25"/>
<rect x="1288.95" y="978.57" width="59.18" height="52.64" fill="#8b4513" fill-opacity="0.25"/>
<rect x="1343.73" y="990.9" width="59.18" height="32.98" fill="#8b4513" fill-opacity="0.25"/>
<rect x="1398.5" y="1005.22" width="59.18" height="21.66" fill="#8b4513" fill-opacity="0.25"/>
<path d="M964.6 813.62h50.58v239.61h-50.58z M1019.37 816.96h50.58v221.61h-50.58z M1074.15 862.6h50.58v137.66h-50.58z M1128.92 868.6h50.58v127.33h-50.58z M1183.7 885.59h50.58v110.01h-50.58z M1238.48 885.92h50.58v77.69h-50.58z M1293.25 890.92h50.58v82.69h-50.58z M1348.03 876.93h50.58v93.35h-50.58z M1402.8 887.25h50.58v78.36h-50.58z M964.6 1144.45h50.58v16.72h-50.58z M1019.37 1090.81h50.58v77.36h-50.58z M1074.15 1058.5h50.58v54.7h-50.58z M1128.92 1041.84h50.58v66.03h-50.58z M1183.7 1021.85h50.58v50.04h-50.58z M1238.48 998.86h50.58v49.37h-50.58z M1293.25 982.87h50.58v44.04h-50.58z M1348.03 995.2h50.58v24.38h-50.58z M1402.8 1009.52h50.58v13.06h-50.58z" fill="none" stroke="#fff" stroke-opacity="0.07" stroke-width="1"/>
</g>
</g>
<g id="panel-2-2">
<path d="M1650.86 793.1v11.5 M1650.86 1188.65v-11.5 M1678.25 793.1v11.5 M1678.25 1188.65v-11.5 M1705.63 793.1v11.5 M1705.63 1188.65v-11.5 M1733.02 793.1v11.5 M1733.02 1188.65v-11.5 M1787.8 793.1v11.5 M1787.8 1188.65v-11.5 M1815.19 793.1v11.5 M1815.19 1188.65v-11.5 M1842.57 793.1v11.5 M1842.57 1188.65v-11.5 M1869.96 793.1v11.5 M1869.96 1188.65v-11.5 M1924.74 793.1v11.5 M1924.74 1188.65v-11.5 M1952.13 793.1v11.5 M1952.13 1188.65v-11.5 M1979.51 793.1v11.5 M1979.51 1188.65v-11.5 M2006.9 793.1v11.5 M2006.9 1188.65v-11.5 M2061.68 793.1v11.5 M2061.68 1188.65v-11.5 M2089.07 793.1v11.5 M2089.07 1188.65v-11.5 M2116.45 793.1v11.5 M2116.45 1188.65v-11.5 M2143.84 793.1v11.5 M2143.84 1188.65v-11.5 M1624.7 1110.59h11.5 M2169.9 1110.59h-11.5 M1624.7 1051.87h11.5 M2169.9 1051.87h-11.5 M1624.7 993.16h11.5 M2169.9 993.16h-11.5 M1624.7 934.44h11.5 M2169.9 934.44h-11.5 M1624.7 817.01h11.5 M2169.9 817.01h-11.5" stroke="#000" stroke-width="2.6" fill="none"/>
<path d="M1760.41 793.1v22.8 M1760.41 1188.65v-22.8 M1897.35 793.1v22.8 M1897.35 1188.65v-22.8 M2034.29 793.1v22.8 M2034.29 1188.65v-22.8 M1624.7 1169.31h22.8 M2169.9 1169.31h-22.8 M1624.7 875.72h22.8 M2169.9 875.72h-22.8" stroke="#000" stroke-width="3.8" fill="none"/>
<rect x="1624.7" y="793.1" width="545.2" height="395.55" fill="none" stroke="#000" stroke-width="3.7"/>
<text class="d" x="1581.1" y="1187.91" text-anchor="end">0</text>
<text class="d" x="1581.1" y="894.32" text-anchor="end">5</text>
<g clip-path="url(#c22)">
<path d="M1678.25 916.94H1733.02 M1733.02 927.26H1787.8 M1787.8 944.92H1842.57 M1842.57 941.92H1897.35 M1897.35 945.92H1952.13 M1952.13 925.93H2006.9 M2006.9 916.94H2061.68 M2061.68 899.28H2116.45 M2116.45 902.94H2171.23" stroke="#000" stroke-width="7.3" stroke-dasharray="25.4 10.3" fill="none"/>
<path d="M1678.25 1143.49H1733.02 M1733.02 1120.5H1787.8 M1787.8 1096.84H1842.57 M1842.57 1080.18H1897.35 M1897.35 1048.53H1952.13 M1952.13 1009.55H2006.9 M2006.9 1001.89H2061.68 M2061.68 995.89H2116.45 M2116.45 994.23H2171.23" stroke="#8b4513" stroke-width="7.3" fill="none"/>
</g>
<text y="1155.35"><tspan class="i" x="1909.2">UVM</tspan><tspan class="d" x="2026.2">2</tspan><tspan class="m" x="2060.71" dy="8.1">−</tspan><tspan class="i" x="2105.1" dy="-8.1">V</tspan></text>
<g clip-path="url(#c22)">
<rect x="1676.05" y="809.32" width="59.18" height="215.89" fill="#000" fill-opacity="0.25"/>
<rect x="1730.82" y="822.32" width="59.18" height="210.22" fill="#000" fill-opacity="0.25"/>
<rect x="1785.6" y="876.29" width="59.18" height="137.26" fill="#000" fill-opacity="0.25"/>
<rect x="1840.37" y="879.29" width="59.18" height="125.6" fill="#000" fill-opacity="0.25"/>
<rect x="1895.15" y="889.62" width="59.18" height="113.27" fill="#000" fill-opacity="0.25"/>
<rect x="1949.93" y="884.62" width="59.18" height="83.29" fill="#000" fill-opacity="0.25"/>
<rect x="2004.7" y="869.96" width="59.18" height="93.95" fill="#000" fill-opacity="0.25"/>
<rect x="2059.48" y="844.31" width="59.18" height="110.28" fill="#000" fill-opacity="0.25"/>
<rect x="2114.25" y="855.97" width="59.18" height="94.62" fill="#000" fill-opacity="0.25"/>
<rect x="1676.05" y="1114.17" width="59.18" height="58.3" fill="#8b4513" fill-opacity="0.25"/>
<rect x="1730.82" y="1071.52" width="59.18" height="98.28" fill="#8b4513" fill-opacity="0.25"/>
<rect x="1785.6" y="1066.53" width="59.18" height="60.64" fill="#8b4513" fill-opacity="0.25"/>
<rect x="1840.37" y="1045.54" width="59.18" height="69.3" fill="#8b4513" fill-opacity="0.25"/>
<rect x="1895.15" y="1016.88" width="59.18" height="62.97" fill="#8b4513" fill-opacity="0.25"/>
<rect x="1949.93" y="976.24" width="59.18" height="66.3" fill="#8b4513" fill-opacity="0.25"/>
<rect x="2004.7" y="964.58" width="59.18" height="75.96" fill="#8b4513" fill-opacity="0.25"/>
<rect x="2059.48" y="975.24" width="59.18" height="41.98" fill="#8b4513" fill-opacity="0.25"/>
<rect x="2114.25" y="967.58" width="59.18" height="52.97" fill="#8b4513" fill-opacity="0.25"/>
<path d="M1680.35 813.62h50.58v207.29h-50.58z M1735.12 826.62h50.58v201.62h-50.58z M1789.9 880.59h50.58v128.66h-50.58z M1844.67 883.59h50.58v117h-50.58z M1899.45 893.92h50.58v104.67h-50.58z M1954.23 888.92h50.58v74.69h-50.58z M2009 874.26h50.58v85.35h-50.58z M2063.78 848.61h50.58v101.68h-50.58z M2118.55 860.27h50.58v86.02h-50.58z M1680.35 1118.47h50.58v49.7h-50.58z M1735.12 1075.82h50.58v89.68h-50.58z M1789.9 1070.83h50.58v52.04h-50.58z M1844.67 1049.84h50.58v60.7h-50.58z M1899.45 1021.18h50.58v54.37h-50.58z M1954.23 980.54h50.58v57.7h-50.58z M2009 968.88h50.58v67.36h-50.58z M2063.78 979.54h50.58v33.38h-50.58z M2118.55 971.88h50.58v44.37h-50.58z" fill="none" stroke="#fff" stroke-opacity="0.07" stroke-width="1"/>
</g>
</g>
<g id="panel-3-0">
<path d="M219.36 1188.65v11.5 M219.36 1584.2v-11.5 M246.75 1188.65v11.5 M246.75 1584.2v-11.5 M274.13 1188.65v11.5 M274.13 1584.2v-11.5 M301.52 1188.65v11.5 M301.52 1584.2v-11.5 M356.3 1188.65v11.5 M356.3 1584.2v-11.5 M383.69 1188.65v11.5 M383.69 1584.2v-11.5 M411.07 1188.65v11.5 M411.07 1584.2v-11.5 M438.46 1188.65v11.5 M438.46 1584.2v-11.5 M493.24 1188.65v11.5 M493.24 1584.2v-11.5 M520.63 1188.65v11.5 M520.63 1584.2v-11.5 M548.01 1188.65v11.5 M548.01 1584.2v-11.5 M575.4 1188.65v11.5 M575.4 1584.2v-11.5 M630.18 1188.65v11.5 M630.18 1584.2v-11.5 M657.57 1188.65v11.5 M657.57 1584.2v-11.5 M684.95 1188.65v11.5 M684.95 1584.2v-11.5 M712.34 1188.65v11.5 M712.34 1584.2v-11.5 M193.2 1559.68h11.5 M738.4 1559.68h-11.5 M193.2 1515.26h11.5 M738.4 1515.26h-11.5 M193.2 1470.83h11.5 M738.4 1470.83h-11.5 M193.2 1381.99h11.5 M738.4 1381.99h-11.5 M193.2 1337.56h11.5 M738.4 1337.56h-11.5 M193.2 1293.14h11.5 M738.4 1293.14h-11.5 M193.2 1248.71h11.5 M738.4 1248.71h-11.5" stroke="#000" stroke-width="2.6" fill="none"/>
<path d="M328.91 1188.65v22.8 M328.91 1584.2v-22.8 M465.85 1188.65v22.8 M465.85 1584.2v-22.8 M602.79 1188.65v22.8 M602.79 1584.2v-22.8 M193.2 1426.41h22.8 M738.4 1426.41h-22.8 M193.2 1204.29h22.8 M738.4 1204.29h-22.8" stroke="#000" stroke-width="3.8" fill="none"/>
<rect x="193.2" y="1188.65" width="545.2" height="395.55" fill="none" stroke="#000" stroke-width="3.7"/>
<text class="d" x="149.6" y="1445.01" text-anchor="end">1</text>
<text class="d" x="149.6" y="1222.89" text-anchor="end">2</text>
<g clip-path="url(#c30)">
<path d="M246.75 1298.94H301.52 M301.52 1300.61H356.3 M356.3 1310.94H411.07 M411.07 1306.27H465.85 M465.85 1309.94H520.63 M520.63 1302.94H575.4 M575.4 1305.27H630.18 M630.18 1306.94H684.95 M684.95 1339.25H739.73" stroke="#000" stroke-width="7.3" stroke-dasharray="25.4 10.3" fill="none"/>
<path d="M246.75 1526.16H301.52 M301.52 1437.87H356.3 M356.3 1407.55H411.07 M411.07 1397.56H465.85 M465.85 1371.24H520.63 M520.63 1362.24H575.4 M575.4 1338.59H630.18 M630.18 1334.59H684.95 M684.95 1356.58H739.73" stroke="#8b4513" stroke-width="7.3" fill="none"/>
</g>
<text y="1550.9"><tspan class="i" x="473">UVW</tspan><tspan class="d" x="589.65">1</tspan><tspan class="m" x="624.36" dy="8.1">−</tspan><tspan class="i" x="668.5" dy="-8.1">U</tspan></text>
<g clip-path="url(#c30)">
<rect x="244.55" y="1204.32" width="59.18" height="189.24" fill="#000" fill-opacity="0.25"/>
<rect x="299.32" y="1220.65" width="59.18" height="160.25" fill="#000" fill-opacity="0.25"/>
<rect x="354.1" y="1254.63" width="59.18" height="113.27" fill="#000" fill-opacity="0.25"/>
<rect x="408.87" y="1256.3" width="59.18" height="100.61" fill="#000" fill-opacity="0.25"/>
<rect x="463.65" y="1271.29" width="59.18" height="77.96" fill="#000" fill-opacity="0.25"/>
<rect x="518.43" y="1264.29" width="59.18" height="77.63" fill="#000" fill-opacity="0.25"/>
<rect x="573.2" y="1264.96" width="59.18" height="81.29" fill="#000" fill-opacity="0.25"/>
<rect x="627.98" y="1248.3" width="59.18" height="117.61" fill="#000" fill-opacity="0.25"/>
<rect x="682.75" y="1262.63" width="59.18" height="153.25" fill="#000" fill-opacity="0.25"/>
<rect x="244.55" y="1483.85" width="59.18" height="84.29" fill="#8b4513" fill-opacity="0.25"/>
<rect x="299.32" y="1382.9" width="59.18" height="109.94" fill="#8b4513" fill-opacity="0.25"/>
<rect x="354.1" y="1364.58" width="59.18" height="86.62" fill="#8b4513" fill-opacity="0.25"/>
<rect x="408.87" y="1345.92" width="59.18" height="103.61" fill="#8b4513" fill-opacity="0.25"/>
<rect x="463.65" y="1340.59" width="59.18" height="61.97" fill="#8b4513" fill-opacity="0.25"/>
<rect x="518.43" y="1326.59" width="59.18" height="71.96" fill="#8b4513" fill-opacity="0.25"/>
<rect x="573.2" y="1295.94" width="59.18" height="84.96" fill="#8b4513" fill-opacity="0.25"/>
<rect x="627.98" y="1273.62" width="59.18" height="122.27" fill="#8b4513" fill-opacity="0.25"/>
<rect x="682.75" y="1336.26" width="59.18" height="40.65" fill="#8b4513" fill-opacity="0.25"/>
<path d="M248.85 1208.62h50.58v180.64h-50.58z M303.62 1224.95h50.58v151.65h-50.58z M358.4 1258.93h50.58v104.67h-50.58z M413.17 1260.6h50.58v92.01h-50.58z M467.95 1275.59h50.58v69.36h-50.58z M522.73 1268.59h50.58v69.03h-50.58z M577.5 1269.26h50.58v72.69h-50.58z M632.28 1252.6h50.58v109.01h-50.58z M687.05 1266.93h50.58v144.65h-50.58z M248.85 1488.15h50.58v75.69h-50.58z M303.62 1387.2h50.58v101.34h-50.58z M358.4 1368.88h50.58v78.02h-50.58z M413.17 1350.22h50.58v95.01h-50.58z M467.95 1344.89h50.58v53.37h-50.58z M522.73 1330.89h50.58v63.36h-50.58z M577.5 1300.24h50.58v76.36h-50.58z M632.28 1277.92h50.58v113.67h-50.58z M687.05 1340.56h50.58v32.05h-50.58z" fill="none" stroke="#fff" stroke-opacity="0.07" stroke-width="1"/>
</g>
</g>
<g id="panel-3-1">
<path d="M935.11 1188.65v11.5 M935.11 1584.2v-11.5 M962.5 1188.65v11.5 M962.5 1584.2v-11.5 M989.88 1188.65v11.5 M989.88 1584.2v-11.5 M1017.27 1188.65v11.5 M1017.27 1584.2v-11.5 M1072.05 1188.65v11.5 M1072.05 1584.2v-11.5 M1099.44 1188.65v11.5 M1099.44 1584.2v-11.5 M1126.82 1188.65v11.5 M1126.82 1584.2v-11.5 M1154.21 1188.65v11.5 M1154.21 1584.2v-11.5 M1208.99 1188.65v11.5 M1208.99 1584.2v-11.5 M1236.38 1188.65v11.5 M1236.38 1584.2v-11.5 M1263.76 1188.65v11.5 M1263.76 1584.2v-11.5 M1291.15 1188.65v11.5 M1291.15 1584.2v-11.5 M1345.93 1188.65v11.5 M1345.93 1584.2v-11.5 M1373.32 1188.65v11.5 M1373.32 1584.2v-11.5 M1400.7 1188.65v11.5 M1400.7 1584.2v-11.5 M1428.09 1188.65v11.5 M1428.09 1584.2v-11.5 M908.95 1559.94h11.5 M1454.15 1559.94h-11.5 M908.95 1450.2h11.5 M1454.15 1450.2h-11.5 M908.95 1395.33h11.5 M1454.15 1395.33h-11.5 M908.95 1340.45h11.5 M1454.15 1340.45h-11.5 M908.95 1230.71h11.5 M1454.15 1230.71h-11.5" stroke="#000" stroke-width="2.6" fill="none"/>
<path d="M1044.66 1188.65v22.8 M1044.66 1584.2v-22.8 M1181.6 1188.65v22.8 M1181.6 1584.2v-22.8 M1318.54 1188.65v22.8 M1318.54 1584.2v-22.8 M908.95 1505.07h22.8 M1454.15 1505.07h-22.8 M908.95 1285.58h22.8 M1454.15 1285.58h-22.8" stroke="#000" stroke-width="3.8" fill="none"/>
<rect x="908.95" y="1188.65" width="545.2" height="395.55" fill="none" stroke="#000" stroke-width="3.7"/>
<text class="d" x="865.35" y="1523.67" text-anchor="end">0</text>
<text class="d" x="865.35" y="1304.18" text-anchor="end">2</text>
<g clip-path="url(#c31)">
<path d="M962.5 1298.94H1017.27 M1017.27 1358.91H1072.05 M1072.05 1393.56H1126.82 M1126.82 1376.24H1181.6 M1181.6 1350.25H1236.38 M1236.38 1319.27H1291.15 M1291.15 1310.27H1345.93 M1345.93 1297.61H1400.7 M1400.7 1302.94H1455.48" stroke="#000" stroke-width="7.3" stroke-dasharray="25.4 10.3" fill="none"/>
<path d="M962.5 1548.15H1017.27 M1017.27 1500.84H1072.05 M1072.05 1452.86H1126.82 M1126.82 1466.52H1181.6 M1181.6 1419.21H1236.38 M1236.38 1385.23H1291.15 M1291.15 1355.25H1345.93 M1345.93 1354.58H1400.7 M1400.7 1351.25H1455.48" stroke="#8b4513" stroke-width="7.3" fill="none"/>
</g>
<text y="1550.9"><tspan class="i" x="1193.85">UVW</tspan><tspan class="d" x="1309.75">1</tspan><tspan class="m" x="1344.66" dy="8.1">−</tspan><tspan class="i" x="1388.85" dy="-8.1">B</tspan></text>
<g clip-path="url(#c31)">
<rect x="960.3" y="1204.32" width="59.18" height="189.9" fill="#000" fill-opacity="0.25"/>
<rect x="1015.07" y="1281.62" width="59.18" height="155.25" fill="#000" fill-opacity="0.25"/>
<rect x="1069.85" y="1348.92" width="59.18" height="89.62" fill="#000" fill-opacity="0.25"/>
<rect x="1124.62" y="1332.59" width="59.18" height="86.96" fill="#000" fill-opacity="0.25"/>
<rect x="1179.4" y="1310.27" width="59.18" height="80.63" fill="#000" fill-opacity="0.25"/>
<rect x="1234.18" y="1290.61" width="59.18" height="57.97" fill="#000" fill-opacity="0.25"/>
<rect x="1288.95" y="1283.62" width="59.18" height="53.97" fill="#000" fill-opacity="0.25"/>
<rect x="1343.73" y="1260.3" width="59.18" height="75.29" fill="#000" fill-opacity="0.25"/>
<rect x="1398.5" y="1260.3" width="59.18" height="85.96" fill="#000" fill-opacity="0.25"/>
<rect x="960.3" y="1528.49" width="59.18" height="39.65" fill="#8b4513" fill-opacity="0.25"/>
<rect x="1015.07" y="1454.2" width="59.18" height="94.28" fill="#8b4513" fill-opacity="0.25"/>
<rect x="1069.85" y="1412.22" width="59.18" height="81.62" fill="#8b4513" fill-opacity="0.25"/>
<rect x="1124.62" y="1412.22" width="59.18" height="108.61" fill="#8b4513" fill-opacity="0.25"/>
<rect x="1179.4" y="1374.9" width="59.18" height="89.62" fill="#8b4513" fill-opacity="0.25"/>
<rect x="1234.18" y="1343.59" width="59.18" height="83.62" fill="#8b4513" fill-opacity="0.25"/>
<rect x="1288.95" y="1324.6" width="59.18" height="61.63" fill="#8b4513" fill-opacity="0.25"/>
<rect x="1343.73" y="1326.26" width="59.18" height="57.3" fill="#8b4513" fill-opacity="0.25"/>
<rect x="1398.5" y="1328.59" width="59.18" height="45.31" fill="#8b4513" fill-opacity="0.25"/>
<path d="M964.6 1208.62h50.58v181.3h-50.58z M1019.37 1285.92h50.58v146.65h-50.58z M1074.15 1353.22h50.58v81.02h-50.58z M1128.92 1336.89h50.58v78.36h-50.58z M1183.7 1314.57h50.58v72.03h-50.58z M1238.48 1294.91h50.58v49.37h-50.58z M1293.25 1287.92h50.58v45.37h-50.58z M1348.03 1264.6h50.58v66.69h-50.58z M1402.8 1264.6h50.58v77.36h-50.58z M964.6 1532.79h50.58v31.05h-50.58z M1019.37 1458.5h50.58v85.68h-50.58z M1074.15 1416.52h50.58v73.02h-50.58z M1128.92 1416.52h50.58v100.01h-50.58z M1183.7 1379.2h50.58v81.02h-50.58z M1238.48 1347.89h50.58v75.02h-50.58z M1293.25 1328.9h50.58v53.03h-50.58z M1348.03 1330.56h50.58v48.7h-50.58z M1402.8 1332.89h50.58v36.71h-50.58z" fill="none" stroke="#fff" stroke-opacity="0.07" stroke-width="1"/>
</g>
</g>
<g id="panel-3-2">
<path d="M1650.86 1188.65v11.5 M1650.86 1584.2v-11.5 M1678.25 1188.65v11.5 M1678.25 1584.2v-11.5 M1705.63 1188.65v11.5 M1705.63 1584.2v-11.5 M1733.02 1188.65v11.5 M1733.02 1584.2v-11.5 M1787.8 1188.65v11.5 M1787.8 1584.2v-11.5 M1815.19 1188.65v11.5 M1815.19 1584.2v-11.5 M1842.57 1188.65v11.5 M1842.57 1584.2v-11.5 M1869.96 1188.65v11.5 M1869.96 1584.2v-11.5 M1924.74 1188.65v11.5 M1924.74 1584.2v-11.5 M1952.13 1188.65v11.5 M1952.13 1584.2v-11.5 M1979.51 1188.65v11.5 M1979.51 1584.2v-11.5 M2006.9 1188.65v11.5 M2006.9 1584.2v-11.5 M2061.68 1188.65v11.5 M2061.68 1584.2v-11.5 M2089.07 1188.65v11.5 M2089.07 1584.2v-11.5 M2116.45 1188.65v11.5 M2116.45 1584.2v-11.5 M2143.84 1188.65v11.5 M2143.84 1584.2v-11.5 M1624.7 1566.69h11.5 M2169.9 1566.69h-11.5 M1624.7 1462.11h11.5 M2169.9 1462.11h-11.5 M1624.7 1409.82h11.5 M2169.9 1409.82h-11.5 M1624.7 1357.53h11.5 M2169.9 1357.53h-11.5 M1624.7 1252.95h11.5 M2169.9 1252.95h-11.5 M1624.7 1200.66h11.5 M2169.9 1200.66h-11.5" stroke="#000" stroke-width="2.6" fill="none"/>
<path d="M1760.41 1188.65v22.8 M1760.41 1584.2v-22.8 M1897.35 1188.65v22.8 M1897.35 1584.2v-22.8 M2034.29 1188.65v22.8 M2034.29 1584.2v-22.8 M1624.7 1514.4h22.8 M2169.9 1514.4h-22.8 M1624.7 1305.24h22.8 M2169.9 1305.24h-22.8" stroke="#000" stroke-width="3.8" fill="none"/>
<rect x="1624.7" y="1188.65" width="545.2" height="395.55" fill="none" stroke="#000" stroke-width="3.7"/>
<text class="d" x="1581.1" y="1533" text-anchor="end">0</text>
<text class="d" x="1581.1" y="1323.84" text-anchor="end">2</text>
<g clip-path="url(#c32)">
<path d="M1678.25 1293.94H1733.02 M1733.02 1370.57H1787.8 M1787.8 1405.89H1842.57 M1842.57 1385.23H1897.35 M1897.35 1354.91H1952.13 M1952.13 1314.27H2006.9 M2006.9 1279.29H2061.68 M2061.68 1263.63H2116.45 M2116.45 1249.3H2171.23" stroke="#000" stroke-width="7.3" stroke-dasharray="25.4 10.3" fill="none"/>
<path d="M1678.25 1518.16H1733.02 M1733.02 1494.17H1787.8 M1787.8 1437.2H1842.57 M1842.57 1460.19H1897.35 M1897.35 1424.88H1952.13 M1952.13 1351.25H2006.9 M2006.9 1351.58H2061.68 M2061.68 1319.27H2116.45 M2116.45 1276.62H2171.23" stroke="#8b4513" stroke-width="7.3" fill="none"/>
</g>
<text y="1550.9"><tspan class="i" x="1909.2">UVW</tspan><tspan class="d" x="2026.2">1</tspan><tspan class="m" x="2060.71" dy="8.1">−</tspan><tspan class="i" x="2105.1" dy="-8.1">V</tspan></text>
<g clip-path="url(#c32)">
<rect x="1676.05" y="1204.32" width="59.18" height="178.91" fill="#000" fill-opacity="0.25"/>
<rect x="1730.82" y="1294.28" width="59.18" height="152.59" fill="#000" fill-opacity="0.25"/>
<rect x="1785.6" y="1360.24" width="59.18" height="91.62" fill="#000" fill-opacity="0.25"/>
<rect x="1840.37" y="1340.92" width="59.18" height="88.62" fill="#000" fill-opacity="0.25"/>
<rect x="1895.15" y="1312.27" width="59.18" height="85.62" fill="#000" fill-opacity="0.25"/>
<rect x="1949.93" y="1278.62" width="59.18" height="71.3" fill="#000" fill-opacity="0.25"/>
<rect x="2004.7" y="1239.31" width="59.18" height="79.96" fill="#000" fill-opacity="0.25"/>
<rect x="2059.48" y="1217.32" width="59.18" height="92.62" fill="#000" fill-opacity="0.25"/>
<rect x="2114.25" y="1206.32" width="59.18" height="85.29" fill="#000" fill-opacity="0.25"/>
<rect x="1676.05" y="1467.86" width="59.18" height="100.28" fill="#8b4513" fill-opacity="0.25"/>
<rect x="1730.82" y="1430.21" width="59.18" height="127.93" fill="#8b4513" fill-opacity="0.25"/>
<rect x="1785.6" y="1387.23" width="59.18" height="99.95" fill="#8b4513" fill-opacity="0.25"/>
<rect x="1840.37" y="1404.89" width="59.18" height="110.28" fill="#8b4513" fill-opacity="0.25"/>
<rect x="1895.15" y="1370.24" width="59.18" height="109.28" fill="#8b4513" fill-opacity="0.25"/>
<rect x="1949.93" y="1291.61" width="59.18" height="119.27" fill="#8b4513" fill-opacity="0.25"/>
<rect x="2004.7" y="1295.94" width="59.18" height="111.28" fill="#8b4513" fill-opacity="0.25"/>
<rect x="2059.48" y="1284.95" width="59.18" height="68.3" fill="#8b4513" fill-opacity="0.25"/>
<rect x="2114.25" y="1244.3" width="59.18" height="64.97" fill="#8b4513" fill-opacity="0.25"/>
<path d="M1680.35 1208.62h50.58v170.31h-50.58z M1735.12 1298.58h50.58v143.99h-50.58z M1789.9 1364.54h50.58v83.02h-50.58z M1844.67 1345.22h50.58v80.02h-50.58z M1899.45 1316.57h50.58v77.02h-50.58z M1954.23 1282.92h50.58v62.7h-50.58z M2009 1243.61h50.58v71.36h-50.58z M2063.78 1221.62h50.58v84.02h-50.58z M2118.55 1210.62h50.58v76.69h-50.58z M1680.35 1472.16h50.58v91.68h-50.58z M1735.12 1434.51h50.58v119.33h-50.58z M1789.9 1391.53h50.58v91.35h-50.58z M1844.67 1409.19h50.58v101.68h-50.58z M1899.45 1374.54h50.58v100.68h-50.58z M1954.23 1295.91h50.58v110.67h-50.58z M2009 1300.24h50.58v102.68h-50.58z M2063.78 1289.25h50.58v59.7h-50.58z M2118.55 1248.6h50.58v56.37h-50.58z" fill="none" stroke="#fff" stroke-opacity="0.07" stroke-width="1"/>
</g>
</g>
<g id="panel-4-0">
<path d="M219.36 1584.2v11.5 M219.36 1979.75v-11.5 M246.75 1584.2v11.5 M246.75 1979.75v-11.5 M274.13 1584.2v11.5 M274.13 1979.75v-11.5 M301.52 1584.2v11.5 M301.52 1979.75v-11.5 M356.3 1584.2v11.5 M356.3 1979.75v-11.5 M383.69 1584.2v11.5 M383.69 1979.75v-11.5 M411.07 1584.2v11.5 M411.07 1979.75v-11.5 M438.46 1584.2v11.5 M438.46 1979.75v-11.5 M493.24 1584.2v11.5 M493.24 1979.75v-11.5 M520.63 1584.2v11.5 M520.63 1979.75v-11.5 M548.01 1584.2v11.5 M548.01 1979.75v-11.5 M575.4 1584.2v11.5 M575.4 1979.75v-11.5 M630.18 1584.2v11.5 M630.18 1979.75v-11.5 M657.57 1584.2v11.5 M657.57 1979.75v-11.5 M684.95 1584.2v11.5 M684.95 1979.75v-11.5 M712.34 1584.2v11.5 M712.34 1979.75v-11.5 M193.2 1958.62h11.5 M738.4 1958.62h-11.5 M193.2 1889.96h11.5 M738.4 1889.96h-11.5 M193.2 1855.63h11.5 M738.4 1855.63h-11.5 M193.2 1821.3h11.5 M738.4 1821.3h-11.5 M193.2 1786.97h11.5 M738.4 1786.97h-11.5 M193.2 1718.32h11.5 M738.4 1718.32h-11.5 M193.2 1683.99h11.5 M738.4 1683.99h-11.5 M193.2 1649.66h11.5 M738.4 1649.66h-11.5 M193.2 1615.33h11.5 M738.4 1615.33h-11.5" stroke="#000" stroke-width="2.6" fill="none"/>
<path d="M328.91 1584.2v22.8 M328.91 1979.75v-22.8 M465.85 1584.2v22.8 M465.85 1979.75v-22.8 M602.79 1584.2v22.8 M602.79 1979.75v-22.8 M193.2 1924.29h22.8 M738.4 1924.29h-22.8 M193.2 1752.65h22.8 M738.4 1752.65h-22.8" stroke="#000" stroke-width="3.8" fill="none"/>
<rect x="193.2" y="1584.2" width="545.2" height="395.55" fill="none" stroke="#000" stroke-width="3.7"/>
<text class="d" x="149.6" y="1942.89" text-anchor="end"><tspan class="m" dy="8.1">−</tspan><tspan dy="-8.1">1</tspan></text>
<text class="d" x="149.6" y="1771.25" text-anchor="end">0</text>
<g clip-path="url(#c40)">
<path d="M246.75 1686.95H301.52 M301.52 1809.22H356.3 M356.3 1836.2H411.07 M411.07 1820.54H465.85 M465.85 1778.23H520.63 M520.63 1744.25H575.4 M575.4 1712.27H630.18 M630.18 1693.94H684.95 M684.95 1672.29H739.73" stroke="#000" stroke-width="7.3" stroke-dasharray="25.4 10.3" fill="none"/>
<path d="M246.75 1867.52H301.52 M301.52 1912.5H356.3 M356.3 1851.53H411.07 M411.07 1864.85H465.85 M465.85 1838.2H520.63 M520.63 1780.9H575.4 M575.4 1759.58H630.18 M630.18 1749.25H684.95 M684.95 1744.25H739.73" stroke="#8b4513" stroke-width="7.3" fill="none"/>
</g>
<text y="1950.05"><tspan class="i" x="584.6">U</tspan><tspan class="m" x="631.61" dy="8.1">−</tspan><tspan class="i" x="675.9" dy="-8.1">B</tspan></text>
<g clip-path="url(#c40)">
<rect x="244.55" y="1600.32" width="59.18" height="173.58" fill="#000" fill-opacity="0.25"/>
<rect x="299.32" y="1734.26" width="59.18" height="150.26" fill="#000" fill-opacity="0.25"/>
<rect x="354.1" y="1791.56" width="59.18" height="89.62" fill="#000" fill-opacity="0.25"/>
<rect x="408.87" y="1773.24" width="59.18" height="95.28" fill="#000" fill-opacity="0.25"/>
<rect x="463.65" y="1729.26" width="59.18" height="98.28" fill="#000" fill-opacity="0.25"/>
<rect x="518.43" y="1702.6" width="59.18" height="83.29" fill="#000" fill-opacity="0.25"/>
<rect x="573.2" y="1675.29" width="59.18" height="74.63" fill="#000" fill-opacity="0.25"/>
<rect x="627.98" y="1654.3" width="59.18" height="79.63" fill="#000" fill-opacity="0.25"/>
<rect x="682.75" y="1643.64" width="59.18" height="57.64" fill="#000" fill-opacity="0.25"/>
<rect x="244.55" y="1832.2" width="59.18" height="70.63" fill="#8b4513" fill-opacity="0.25"/>
<rect x="299.32" y="1861.52" width="59.18" height="101.95" fill="#8b4513" fill-opacity="0.25"/>
<rect x="354.1" y="1808.55" width="59.18" height="86.62" fill="#8b4513" fill-opacity="0.25"/>
<rect x="408.87" y="1802.22" width="59.18" height="125.27" fill="#8b4513" fill-opacity="0.25"/>
<rect x="463.65" y="1768.9" width="59.18" height="138.6" fill="#8b4513" fill-opacity="0.25"/>
<rect x="518.43" y="1717.6" width="59.18" height="126.6" fill="#8b4513" fill-opacity="0.25"/>
<rect x="573.2" y="1703.94" width="59.18" height="111.28" fill="#8b4513" fill-opacity="0.25"/>
<rect x="627.98" y="1719.6" width="59.18" height="59.64" fill="#8b4513" fill-opacity="0.25"/>
<rect x="682.75" y="1715.6" width="59.18" height="56.97" fill="#8b4513" fill-opacity="0.25"/>
<path d="M248.85 1604.62h50.58v164.98h-50.58z M303.62 1738.56h50.58v141.66h-50.58z M358.4 1795.86h50.58v81.02h-50.58z M413.17 1777.54h50.58v86.68h-50.58z M467.95 1733.56h50.58v89.68h-50.58z M522.73 1706.9h50.58v74.69h-50.58z M577.5 1679.59h50.58v66.03h-50.58z M632.28 1658.6h50.58v71.03h-50.58z M687.05 1647.94h50.58v49.04h-50.58z M248.85 1836.5h50.58v62.03h-50.58z M303.62 1865.82h50.58v93.35h-50.58z M358.4 1812.85h50.58v78.02h-50.58z M413.17 1806.52h50.58v116.67h-50.58z M467.95 1773.2h50.58v130h-50.58z M522.73 1721.9h50.58v118h-50.58z M577.5 1708.24h50.58v102.68h-50.58z M632.28 1723.9h50.58v51.04h-50.58z M687.05 1719.9h50.58v48.37h-50.58z" fill="none" stroke="#fff" stroke-opacity="0.07" stroke-width="1"/>
</g>
</g>
<g id="panel-4-1">
<path d="M935.11 1584.2v11.5 M935.11 1979.75v-11.5 M962.5 1584.2v11.5 M962.5 1979.75v-11.5 M989.88 1584.2v11.5 M989.88 1979.75v-11.5 M1017.27 1584.2v11.5 M1017.27 1979.75v-11.5 M1072.05 1584.2v11.5 M1072.05 1979.75v-11.5 M1099.44 1584.2v11.5 M1099.44 1979.75v-11.5 M1126.82 1584.2v11.5 M1126.82 1979.75v-11.5 M1154.21 1584.2v11.5 M1154.21 1979.75v-11.5 M1208.99 1584.2v11.5 M1208.99 1979.75v-11.5 M1236.38 1584.2v11.5 M1236.38 1979.75v-11.5 M1263.76 1584.2v11.5 M1263.76 1979.75v-11.5 M1291.15 1584.2v11.5 M1291.15 1979.75v-11.5 M1345.93 1584.2v11.5 M1345.93 1979.75v-11.5 M1373.32 1584.2v11.5 M1373.32 1979.75v-11.5 M1400.7 1584.2v11.5 M1400.7 1979.75v-11.5 M1428.09 1584.2v11.5 M1428.09 1979.75v-11.5 M908.95 1973.75h11.5 M1454.15 1973.75h-11.5 M908.95 1948.65h11.5 M1454.15 1948.65h-11.5 M908.95 1898.46h11.5 M1454.15 1898.46h-11.5 M908.95 1873.36h11.5 M1454.15 1873.36h-11.5 M908.95 1848.27h11.5 M1454.15 1848.27h-11.5 M908.95 1823.17h11.5 M1454.15 1823.17h-11.5 M908.95 1772.98h11.5 M1454.15 1772.98h-11.5 M908.95 1747.88h11.5 M1454.15 1747.88h-11.5 M908.95 1722.78h11.5 M1454.15 1722.78h-11.5 M908.95 1697.68h11.5 M1454.15 1697.68h-11.5 M908.95 1647.49h11.5 M1454.15 1647.49h-11.5 M908.95 1622.39h11.5 M1454.15 1622.39h-11.5 M908.95 1597.3h11.5 M1454.15 1597.3h-11.5" stroke="#000" stroke-width="2.6" fill="none"/>
<path d="M1044.66 1584.2v22.8 M1044.66 1979.75v-22.8 M1181.6 1584.2v22.8 M1181.6 1979.75v-22.8 M1318.54 1584.2v22.8 M1318.54 1979.75v-22.8 M908.95 1923.56h22.8 M1454.15 1923.56h-22.8 M908.95 1798.07h22.8 M1454.15 1798.07h-22.8 M908.95 1672.59h22.8 M1454.15 1672.59h-22.8" stroke="#000" stroke-width="3.8" fill="none"/>
<rect x="908.95" y="1584.2" width="545.2" height="395.55" fill="none" stroke="#000" stroke-width="3.7"/>
<text class="d" x="865.35" y="1942.16" text-anchor="end"><tspan class="m" dy="8.1">−</tspan><tspan dy="-8.1">1</tspan></text>
<text class="d" x="865.35" y="1816.67" text-anchor="end">0</text>
<text class="d" x="865.35" y="1691.19" text-anchor="end">1</text>
<g clip-path="url(#c41)">
<path d="M962.5 1733.59H1017.27 M1017.27 1826.21H1072.05 M1072.05 1855.53H1126.82 M1126.82 1838.87H1181.6 M1181.6 1796.89H1236.38 M1236.38 1759.24H1291.15 M1291.15 1714.27H1345.93 M1345.93 1688.28H1400.7 M1400.7 1645.3H1455.48" stroke="#000" stroke-width="7.3" stroke-dasharray="25.4 10.3" fill="none"/>
<path d="M962.5 1872.85H1017.27 M1017.27 1903.5H1072.05 M1072.05 1856.19H1126.82 M1126.82 1846.2H1181.6 M1181.6 1847.2H1236.38 M1236.38 1759.91H1291.15 M1291.15 1770.24H1345.93 M1345.93 1752.25H1400.7 M1400.7 1677.62H1455.48" stroke="#8b4513" stroke-width="7.3" fill="none"/>
</g>
<text y="1950.05"><tspan class="i" x="1301.35">U</tspan><tspan class="m" x="1348.36" dy="8.1">−</tspan><tspan class="i" x="1392.65" dy="-8.1">V</tspan></text>
<g clip-path="url(#c41)">
<rect x="960.3" y="1654.3" width="59.18" height="158.58" fill="#000" fill-opacity="0.25"/>
<rect x="1015.07" y="1764.24" width="59.18" height="124.27" fill="#000" fill-opacity="0.25"/>
<rect x="1069.85" y="1814.55" width="59.18" height="82.29" fill="#000" fill-opacity="0.25"/>
<rect x="1124.62" y="1796.22" width="59.18" height="84.96" fill="#000" fill-opacity="0.25"/>
<rect x="1179.4" y="1752.25" width="59.18" height="89.95" fill="#000" fill-opacity="0.25"/>
<rect x="1234.18" y="1712.27" width="59.18" height="94.62" fill="#000" fill-opacity="0.25"/>
<rect x="1288.95" y="1661.29" width="59.18" height="105.95" fill="#000" fill-opacity="0.25"/>
<rect x="1343.73" y="1630.31" width="59.18" height="115.94" fill="#000" fill-opacity="0.25"/>
<rect x="1398.5" y="1600.32" width="59.18" height="89.95" fill="#000" fill-opacity="0.25"/>
<rect x="960.3" y="1814.55" width="59.18" height="116.94" fill="#8b4513" fill-opacity="0.25"/>
<rect x="1015.07" y="1843.87" width="59.18" height="119.6" fill="#8b4513" fill-opacity="0.25"/>
<rect x="1069.85" y="1807.55" width="59.18" height="97.95" fill="#8b4513" fill-opacity="0.25"/>
<rect x="1124.62" y="1790.89" width="59.18" height="110.28" fill="#8b4513" fill-opacity="0.25"/>
<rect x="1179.4" y="1780.9" width="59.18" height="132.6" fill="#8b4513" fill-opacity="0.25"/>
<rect x="1234.18" y="1685.28" width="59.18" height="150.59" fill="#8b4513" fill-opacity="0.25"/>
<rect x="1288.95" y="1690.94" width="59.18" height="158.58" fill="#8b4513" fill-opacity="0.25"/>
<rect x="1343.73" y="1694.28" width="59.18" height="115.61" fill="#8b4513" fill-opacity="0.25"/>
<rect x="1398.5" y="1629.64" width="59.18" height="96.28" fill="#8b4513" fill-opacity="0.25"/>
<path d="M964.6 1658.6h50.58v149.98h-50.58z M1019.37 1768.54h50.58v115.67h-50.58z M1074.15 1818.85h50.58v73.69h-50.58z M1128.92 1800.52h50.58v76.36h-50.58z M1183.7 1756.55h50.58v81.35h-50.58z M1238.48 1716.57h50.58v86.02h-50.58z M1293.25 1665.59h50.58v97.35h-50.58z M1348.03 1634.61h50.58v107.34h-50.58z M1402.8 1604.62h50.58v81.35h-50.58z M964.6 1818.85h50.58v108.34h-50.58z M1019.37 1848.17h50.58v111h-50.58z M1074.15 1811.85h50.58v89.35h-50.58z M1128.92 1795.19h50.58v101.68h-50.58z M1183.7 1785.2h50.58v124h-50.58z M1238.48 1689.58h50.58v141.99h-50.58z M1293.25 1695.24h50.58v149.98h-50.58z M1348.03 1698.58h50.58v107.01h-50.58z M1402.8 1633.94h50.58v87.68h-50.58z" fill="none" stroke="#fff" stroke-opacity="0.07" stroke-width="1"/>
</g>
</g>
<g id="panel-4-2">
<path d="M1650.86 1584.2v11.5 M1650.86 1979.75v-11.5 M1678.25 1584.2v11.5 M1678.25 1979.75v-11.5 M1705.63 1584.2v11.5 M1705.63 1979.75v-11.5 M1733.02 1584.2v11.5 M1733.02 1979.75v-11.5 M1787.8 1584.2v11.5 M1787.8 1979.75v-11.5 M1815.19 1584.2v11.5 M1815.19 1979.75v-11.5 M1842.57 1584.2v11.5 M1842.57 1979.75v-11.5 M1869.96 1584.2v11.5 M1869.96 1979.75v-11.5 M1924.74 1584.2v11.5 M1924.74 1979.75v-11.5 M1952.13 1584.2v11.5 M1952.13 1979.75v-11.5 M1979.51 1584.2v11.5 M1979.51 1979.75v-11.5 M2006.9 1584.2v11.5 M2006.9 1979.75v-11.5 M2061.68 1584.2v11.5 M2061.68 1979.75v-11.5 M2089.07 1584.2v11.5 M2089.07 1979.75v-11.5 M2116.45 1584.2v11.5 M2116.45 1979.75v-11.5 M2143.84 1584.2v11.5 M2143.84 1979.75v-11.5 M1624.7 1863.3h11.5 M2169.9 1863.3h-11.5 M1624.7 1804.93h11.5 M2169.9 1804.93h-11.5 M1624.7 1746.57h11.5 M2169.9 1746.57h-11.5 M1624.7 1688.21h11.5 M2169.9 1688.21h-11.5" stroke="#000" stroke-width="2.6" fill="none"/>
<path d="M1760.41 1584.2v22.8 M1760.41 1979.75v-22.8 M1897.35 1584.2v22.8 M1897.35 1979.75v-22.8 M2034.29 1584.2v22.8 M2034.29 1979.75v-22.8 M1624.7 1921.66h22.8 M2169.9 1921.66h-22.8 M1624.7 1629.84h22.8 M2169.9 1629.84h-22.8" stroke="#000" stroke-width="3.8" fill="none"/>
<rect x="1624.7" y="1584.2" width="545.2" height="395.55" fill="none" stroke="#000" stroke-width="3.7"/>
<text class="d" x="1581.1" y="1940.26" text-anchor="end">0</text>
<text class="d" x="1581.1" y="1648.44" text-anchor="end">1</text>
<g clip-path="url(#c42)">
<path d="M1678.25 1858.86H1733.02 M1733.02 1909.5H1787.8 M1787.8 1920.16H1842.57 M1842.57 1906.5H1897.35 M1897.35 1880.18H1952.13 M1952.13 1850.2H2006.9 M2006.9 1822.88H2061.68 M2061.68 1767.9H2116.45 M2116.45 1690.94H2171.23" stroke="#000" stroke-width="7.3" stroke-dasharray="25.4 10.3" fill="none"/>
<path d="M1678.25 1849.53H1733.02 M1733.02 1895.84H1787.8 M1787.8 1872.18H1842.57 M1842.57 1902.5H1897.35 M1897.35 1891.17H1952.13 M1952.13 1811.88H2006.9 M2006.9 1845.53H2061.68 M2061.68 1821.54H2116.45 M2116.45 1711.27H2171.23" stroke="#8b4513" stroke-width="7.3" fill="none"/>
</g>
<text y="1950.05"><tspan class="i" x="2021.3">B</tspan><tspan class="m" x="2062.21" dy="8.1">−</tspan><tspan class="i" x="2106.9" dy="-8.1">V</tspan></text>
<g clip-path="url(#c42)">
<rect x="1676.05" y="1791.89" width="59.18" height="134.26" fill="#000" fill-opacity="0.25"/>
<rect x="1730.82" y="1870.85" width="59.18" height="77.29" fill="#000" fill-opacity="0.25"/>
<rect x="1785.6" y="1876.18" width="59.18" height="87.62" fill="#000" fill-opacity="0.25"/>
<rect x="1840.37" y="1872.85" width="59.18" height="66.97" fill="#000" fill-opacity="0.25"/>
<rect x="1895.15" y="1842.87" width="59.18" height="74.29" fill="#000" fill-opacity="0.25"/>
<rect x="1949.93" y="1797.56" width="59.18" height="105.61" fill="#000" fill-opacity="0.25"/>
<rect x="2004.7" y="1750.91" width="59.18" height="143.93" fill="#000" fill-opacity="0.25"/>
<rect x="2059.48" y="1689.28" width="59.18" height="157.59" fill="#000" fill-opacity="0.25"/>
<rect x="2114.25" y="1625.64" width="59.18" height="130.6" fill="#000" fill-opacity="0.25"/>
<rect x="1676.05" y="1768.24" width="59.18" height="162.25" fill="#8b4513" fill-opacity="0.25"/>
<rect x="1730.82" y="1845.86" width="59.18" height="100.28" fill="#8b4513" fill-opacity="0.25"/>
<rect x="1785.6" y="1814.55" width="59.18" height="115.27" fill="#8b4513" fill-opacity="0.25"/>
<rect x="1840.37" y="1865.52" width="59.18" height="74.29" fill="#8b4513" fill-opacity="0.25"/>
<rect x="1895.15" y="1842.87" width="59.18" height="96.95" fill="#8b4513" fill-opacity="0.25"/>
<rect x="1949.93" y="1730.26" width="59.18" height="163.92" fill="#8b4513" fill-opacity="0.25"/>
<rect x="2004.7" y="1749.58" width="59.18" height="192.23" fill="#8b4513" fill-opacity="0.25"/>
<rect x="2059.48" y="1731.26" width="59.18" height="180.24" fill="#8b4513" fill-opacity="0.25"/>
<rect x="2114.25" y="1600.32" width="59.18" height="221.89" fill="#8b4513" fill-opacity="0.25"/>
<path d="M1680.35 1796.19h50.58v125.66h-50.58z M1735.12 1875.15h50.58v68.69h-50.58z M1789.9 1880.48h50.58v79.02h-50.58z M1844.67 1877.15h50.58v58.37h-50.58z M1899.45 1847.17h50.58v65.69h-50.58z M1954.23 1801.86h50.58v97.01h-50.58z M2009 1755.21h50.58v135.33h-50.58z M2063.78 1693.58h50.58v148.99h-50.58z M2118.55 1629.94h50.58v122h-50.58z M1680.35 1772.54h50.58v153.65h-50.58z M1735.12 1850.16h50.58v91.68h-50.58z M1789.9 1818.85h50.58v106.67h-50.58z M1844.67 1869.82h50.58v65.69h-50.58z M1899.45 1847.17h50.58v88.35h-50.58z M1954.23 1734.56h50.58v155.32h-50.58z M2009 1753.88h50.58v183.63h-50.58z M2063.78 1735.56h50.58v171.64h-50.58z M2118.55 1604.62h50.58v213.29h-50.58z" fill="none" stroke="#fff" stroke-opacity="0.07" stroke-width="1"/>
</g>
</g>
<rect x="2170" y="0.15" width="2" height="1981.45" fill="#000"/>
<text class="d" x="329.51" y="2061.9" text-anchor="middle"><tspan class="m" dy="8.1">−</tspan><tspan dy="-8.1">10</tspan></text>
<text class="d" x="466.45" y="2061.9" text-anchor="middle">0</text>
<text class="d" x="603.39" y="2061.9" text-anchor="middle">10</text>
<text class="d" x="1045.26" y="2061.9" text-anchor="middle"><tspan class="m" dy="8.1">−</tspan><tspan dy="-8.1">10</tspan></text>
<text class="d" x="1182.2" y="2061.9" text-anchor="middle">0</text>
<text class="d" x="1319.14" y="2061.9" text-anchor="middle">10</text>
<text class="d" x="1761.01" y="2061.9" text-anchor="middle"><tspan class="m" dy="8.1">−</tspan><tspan dy="-8.1">10</tspan></text>
<text class="d" x="1897.95" y="2061.9" text-anchor="middle">0</text>
<text class="d" x="2034.89" y="2061.9" text-anchor="middle">10</text>
<text transform="translate(38.1 1099.7) rotate(-90)" text-anchor="middle">Observed Color [mag]</text>
<text y="2118.2"><tspan x="950.1">Time from </tspan><tspan class="i" x="1196.5">t</tspan><tspan class="i" font-size="36.8" x="1215.6" y="2099.9">B</tspan><tspan class="i" font-size="38.2" x="1210.8" y="2132.2">max</tspan><tspan x="1276.6" y="2118.2"> [days]</tspan></text>
</svg>
</body></html>
